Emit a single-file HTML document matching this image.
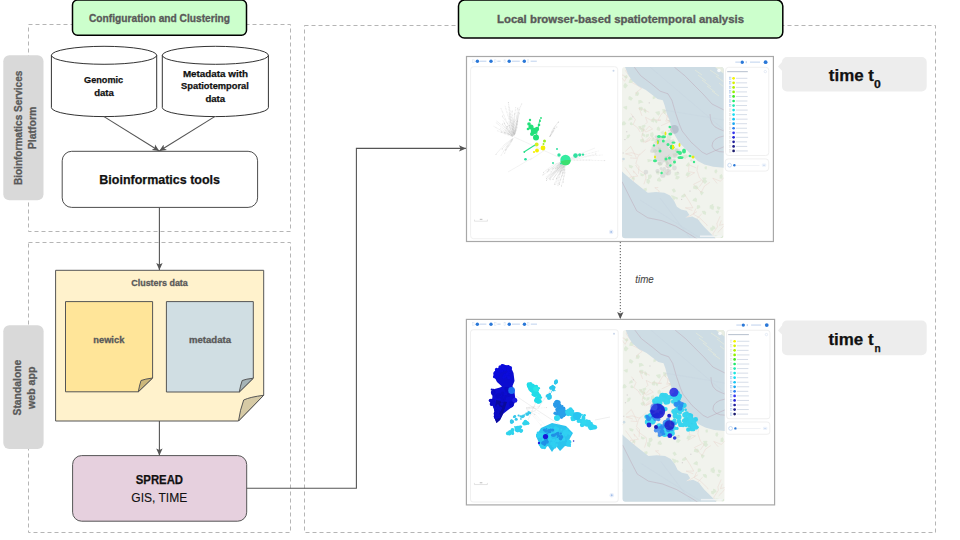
<!DOCTYPE html>
<html>
<head>
<meta charset="utf-8">
<style>
html,body{margin:0;padding:0;background:#fff;width:960px;height:540px;overflow:hidden;}
svg{display:block;font-family:"Liberation Sans",sans-serif;}
</style>
</head>
<body>
<svg width="960" height="540" viewBox="0 0 960 540">
<defs>
  <marker id="ah" markerWidth="8" markerHeight="8" viewBox="0 0 8 8" refX="7" refY="4" orient="auto" markerUnits="userSpaceOnUse">
    <path d="M0,0.8 L7,4 L0,7.2 L1.6,4 Z" fill="#555"/>
  </marker>
</defs>

<!-- dashed containers -->
<g fill="none" stroke="#b5b5b5" stroke-width="1" stroke-dasharray="4 3">
  <rect x="28.5" y="24.5" width="262" height="207"/>
  <rect x="28.5" y="242.5" width="262" height="290"/>
  <rect x="304.5" y="25.5" width="631" height="507"/>
</g>

<!-- green header boxes -->
<rect x="72.5" y="0.1" width="174" height="35.1" rx="5" fill="#ccffcc" stroke="#000" stroke-width="1.5"/>
<rect x="458.5" y="0.1" width="324.3" height="38" rx="6" fill="#ccffcc" stroke="#000" stroke-width="1.5"/>

<!-- gray side labels -->
<rect x="3.3" y="55.3" width="40.2" height="145" rx="6" fill="#d9d9d9"/>
<rect x="3.3" y="325.3" width="40.3" height="123.6" rx="6" fill="#d9d9d9"/>

<!-- cylinders -->
<g fill="#fff" stroke="#333" stroke-width="1">
  <path d="M51.4,55.3 A52.65,9 0 0 1 156.7,55.3 L156.7,107.6 A52.65,9 0 0 1 51.4,107.6 Z"/>
  <path d="M51.4,55.3 A52.65,9 0 0 0 156.7,55.3" fill="none"/>
  <path d="M162.3,55.3 A53.05,9 0 0 1 268.4,55.3 L268.4,107.6 A53.05,9 0 0 1 162.3,107.6 Z"/>
  <path d="M162.3,55.3 A53.05,9 0 0 0 268.4,55.3" fill="none"/>
</g>

<!-- Bioinformatics tools box -->
<rect x="62.2" y="151.3" width="195.4" height="56.1" rx="9.5" fill="#fff" stroke="#4d4d4d" stroke-width="1"/>

<!-- clusters frame -->
<path d="M55.6,270.3 H263.7 V395.3 L238.5,421 H55.6 Z" fill="#fff2cc" stroke="#555" stroke-width="1"/>
<path d="M263.7,395.3 Q250,397 243.7,400 Q240,410 238.5,421 Z" fill="#d6caa5" stroke="#555" stroke-width="1"/>
<path d="M65.5,301.6 H152.6 V378 L138.3,391.8 H65.5 Z" fill="#ffe599" stroke="#555" stroke-width="1"/>
<path d="M152.6,378 Q145,379 141,380.5 Q139.3,386 138.3,391.8 Z" fill="#ccb77a" stroke="#555" stroke-width="1"/>
<path d="M166.4,301.6 H253.3 V378.2 L239.3,392 H166.4 Z" fill="#d0dee3" stroke="#555" stroke-width="1"/>
<path d="M253.3,378.2 Q246,379 242.2,380.5 Q240.3,386 239.3,392 Z" fill="#a6b3b6" stroke="#555" stroke-width="1"/>

<!-- SPREAD box -->
<rect x="72.6" y="455.6" width="174.1" height="65.6" rx="9" fill="#e6d0de" stroke="#555" stroke-width="1"/>

<!-- connectors -->
<g fill="none" stroke="#555" stroke-width="1.1">
  <path d="M104,116.6 L159.3,151" marker-end="url(#ah)"/>
  <path d="M214.7,116.6 L159.3,151" marker-end="url(#ah)"/>
  <path d="M159.4,207.4 V270" marker-end="url(#ah)"/>
  <path d="M159.4,421 V455.4" marker-end="url(#ah)"/>
  <path d="M246.7,488.3 H356.4 V148.4 H466" marker-end="url(#ah)"/>
  <path d="M620.3,242 V319" stroke="#555" stroke-width="1" stroke-dasharray="1.2 1.8" marker-end="url(#ah)"/>
</g>

<!-- time bubbles -->
<path d="M787,57 H921.7 A5,5 0 0 1 926.7,62 V86.5 A5,5 0 0 1 921.7,91.5 H787 A5,5 0 0 1 782,86.5 V70.8 L778,66.5 L782,62 A5,5 0 0 1 787,57 Z" fill="#ededed"/>
<path d="M787,320.6 H921.7 A5,5 0 0 1 926.7,325.6 V350.2 A5,5 0 0 1 921.7,355.2 H787 A5,5 0 0 1 782,350.2 V334.6 L778,330.4 L782,325.6 A5,5 0 0 1 787,320.6 Z" fill="#ededed"/>

<!-- SCREENSHOTS -->
<g id="shots">
<defs><clipPath id="mapclip"><rect x="622" y="67" width="101.7" height="171.3" rx="3"/></clipPath>
<g id="mapbaseg" clip-path="url(#mapclip)">
<rect x="622" y="67" width="101.7" height="171.3" fill="#f1f3ed"/>
<path d="M669.2,163.2 L667.9,164.9 L665.8,164.3 L665.1,160.9 L667.4,161.1ZM632.2,205.6 L631.1,208.6 L629.0,206.7 L630.1,205.0 L631.4,204.4ZM643.0,107.8 L642.0,111.1 L639.1,109.8 L639.0,106.9 L641.5,106.8ZM724.3,237.8 L722.4,238.6 L720.9,238.1 L720.4,235.9 L722.7,235.7ZM719.2,211.5 L717.9,213.9 L716.0,212.5 L715.6,211.0 L718.5,210.5ZM633.3,124.6 L631.5,125.2 L630.0,124.7 L629.8,122.9 L631.4,122.0ZM643.4,191.6 L642.1,193.8 L640.0,193.3 L639.4,190.0 L641.6,189.3ZM645.4,134.9 L644.7,137.1 L642.0,135.5 L641.9,133.2 L643.3,133.3ZM633.3,166.3 L631.8,168.5 L629.1,167.4 L628.7,164.8 L631.2,165.3ZM714.2,206.6 L713.4,209.9 L710.7,209.1 L711.3,205.1 L713.2,205.7ZM628.4,231.2 L627.1,234.1 L624.5,232.5 L623.5,230.5 L626.0,230.1ZM679.5,212.9 L678.0,214.2 L677.0,214.0 L677.0,212.1 L678.2,211.0ZM682.2,89.3 L679.3,91.9 L677.2,90.6 L678.2,89.1 L679.3,86.5ZM694.4,231.0 L692.9,234.1 L689.7,233.8 L690.0,230.8 L693.4,229.0ZM698.7,187.9 L696.7,189.6 L693.0,188.4 L693.4,185.8 L696.9,185.4ZM686.8,132.5 L685.8,134.4 L681.7,133.3 L683.2,131.1 L685.5,130.3ZM668.6,209.7 L667.4,212.3 L664.8,211.3 L664.5,208.9 L667.2,207.6ZM650.1,68.6 L648.2,70.1 L645.3,69.9 L645.1,67.3 L648.1,66.5ZM644.8,141.2 L642.0,142.5 L640.4,141.6 L639.9,139.8 L643.3,138.2ZM694.5,229.3 L693.7,231.0 L691.8,230.8 L691.5,228.1 L693.7,226.7ZM721.2,144.1 L720.3,145.5 L718.2,145.5 L717.8,143.0 L720.2,143.1ZM669.0,71.5 L668.0,72.2 L665.8,72.3 L665.6,69.6 L669.0,68.5ZM691.8,101.1 L691.6,102.8 L689.2,101.8 L688.9,100.3 L691.3,99.1ZM686.2,196.1 L683.5,197.5 L681.0,197.2 L681.6,195.5 L684.6,193.5ZM662.4,164.9 L659.8,166.3 L658.4,165.0 L657.7,162.3 L660.7,161.9ZM646.3,221.8 L644.1,223.5 L641.1,222.9 L642.2,219.6 L643.5,218.9ZM678.1,198.4 L677.2,199.5 L675.8,199.0 L674.7,197.0 L677.2,197.0ZM676.1,191.2 L673.7,192.8 L672.5,191.1 L671.7,189.8 L674.1,188.2ZM688.1,156.9 L686.6,158.1 L683.2,157.6 L683.3,155.1 L687.1,154.6ZM681.4,101.4 L679.6,102.4 L677.3,102.1 L677.0,99.9 L680.0,99.4ZM693.0,78.3 L691.2,81.3 L689.6,79.7 L689.3,77.5 L692.5,75.7ZM672.0,120.8 L669.7,122.5 L668.7,121.7 L668.3,120.6 L670.4,119.7ZM660.1,172.4 L658.6,174.8 L656.5,174.0 L656.0,171.8 L658.0,171.1ZM677.3,93.9 L675.4,96.4 L672.8,95.3 L673.9,93.2 L676.2,91.8ZM715.3,120.7 L713.8,123.8 L711.1,121.5 L710.0,119.8 L712.5,119.8ZM706.5,139.3 L706.1,141.4 L704.3,140.2 L703.0,137.1 L705.9,138.1ZM675.1,196.6 L673.1,197.7 L671.9,197.5 L670.9,195.3 L673.0,195.4ZM643.6,102.5 L640.5,103.1 L638.5,104.3 L638.2,100.3 L640.9,99.9ZM674.6,140.6 L674.1,143.3 L672.2,142.0 L672.2,139.2 L673.7,139.2ZM675.9,70.3 L673.8,72.5 L671.6,70.6 L671.6,68.3 L674.8,67.4ZM650.5,223.2 L648.1,224.7 L645.1,223.9 L645.9,221.0 L648.7,221.1ZM696.3,78.9 L695.3,80.5 L692.2,80.3 L691.5,77.7 L695.0,77.5ZM689.8,164.4 L688.0,166.8 L685.6,165.7 L687.3,163.6 L689.0,162.0ZM649.0,135.3 L648.1,136.8 L645.5,137.8 L646.0,134.4 L648.9,133.8ZM722.7,176.3 L722.2,178.7 L719.6,178.5 L719.7,175.3 L721.8,174.0ZM685.0,77.5 L683.8,79.2 L681.9,78.1 L681.4,75.5 L683.6,74.5ZM652.7,69.2 L652.9,71.7 L649.3,71.3 L650.8,68.6 L653.4,66.9ZM631.4,221.8 L629.4,223.4 L626.8,223.6 L627.9,220.4 L630.9,219.5ZM684.4,86.8 L682.9,87.7 L681.3,87.4 L680.3,85.3 L682.8,85.2ZM682.4,139.1 L680.3,141.8 L678.9,139.5 L677.5,137.6 L681.3,136.6ZM660.1,113.7 L658.5,115.7 L656.7,114.1 L655.1,112.0 L659.5,110.9ZM627.9,77.1 L626.2,78.6 L625.0,78.1 L623.6,76.5 L626.8,75.1ZM661.0,148.5 L659.8,151.6 L658.5,149.8 L657.7,147.1 L660.0,147.5ZM666.2,111.5 L665.1,114.2 L662.8,112.6 L662.3,109.0 L664.9,109.4ZM632.8,216.4 L632.3,218.6 L630.3,217.5 L630.9,215.8 L632.0,214.2ZM632.7,119.3 L630.7,120.1 L628.2,120.7 L629.1,118.3 L631.1,116.9ZM715.8,228.2 L714.1,229.4 L712.5,229.0 L712.0,225.4 L714.1,226.0ZM660.4,129.0 L659.6,131.1 L656.6,130.1 L657.0,127.5 L658.9,126.5ZM712.1,114.5 L710.7,117.3 L707.8,116.0 L709.3,114.3 L711.0,112.6ZM633.4,81.4 L631.7,83.0 L628.6,82.9 L629.2,80.0 L630.8,78.3ZM675.9,197.7 L674.2,200.2 L672.4,199.1 L672.3,196.0 L675.2,196.2ZM707.3,181.6 L705.0,183.9 L702.4,181.8 L702.6,179.5 L705.5,179.3ZM667.2,92.5 L664.6,93.3 L662.7,93.4 L661.3,90.5 L664.1,90.3ZM634.9,178.0 L634.6,179.5 L631.0,179.4 L632.3,177.4 L633.7,176.3ZM647.0,189.7 L646.3,191.1 L643.7,191.6 L643.6,188.6 L646.5,187.8ZM649.7,219.2 L648.9,221.7 L646.9,219.6 L645.2,217.7 L648.9,217.1ZM677.9,154.8 L675.1,156.7 L673.5,156.8 L672.4,153.8 L675.8,153.1ZM639.3,93.7 L637.9,96.0 L635.0,95.5 L635.8,92.8 L638.0,91.2ZM624.9,208.0 L623.0,208.8 L621.1,208.0 L620.5,206.3 L623.4,205.6ZM709.6,119.2 L707.8,120.1 L706.4,119.5 L706.0,117.6 L708.0,116.1ZM654.8,119.7 L654.0,122.6 L651.2,121.8 L651.4,119.4 L654.0,117.1ZM706.7,178.3 L705.3,180.3 L703.3,179.9 L702.0,177.8 L705.7,177.5ZM685.8,116.5 L684.3,118.2 L681.7,118.2 L682.3,116.0 L684.4,115.1ZM718.2,163.5 L716.6,164.4 L715.7,164.1 L714.6,161.5 L716.7,161.4ZM707.1,168.0 L706.3,169.5 L704.8,169.1 L704.5,166.9 L706.5,166.1ZM700.4,207.3 L699.1,208.4 L696.7,209.0 L697.0,205.2 L699.6,205.3ZM626.3,123.4 L624.8,125.2 L621.6,125.2 L622.3,121.9 L624.1,120.9ZM714.4,160.6 L713.6,163.0 L710.3,161.5 L710.2,158.8 L712.7,157.7ZM686.2,100.5 L685.4,103.3 L682.4,102.9 L683.0,99.8 L685.0,97.7ZM637.8,221.7 L636.0,223.1 L632.6,222.8 L634.0,219.9 L635.8,218.8ZM653.1,220.0 L651.0,221.8 L649.9,221.0 L649.5,219.9 L652.6,217.9ZM690.4,119.9 L688.7,121.7 L686.9,120.1 L686.0,118.7 L688.0,117.8ZM680.5,96.7 L679.4,98.4 L678.0,97.3 L678.0,95.8 L680.2,94.8ZM671.5,137.5 L669.4,140.0 L666.4,139.2 L667.0,135.2 L669.5,135.5ZM680.8,221.8 L679.6,224.6 L677.8,222.5 L676.4,219.7 L679.6,219.7ZM698.3,119.2 L698.2,120.8 L695.7,120.2 L694.8,118.2 L697.7,117.7ZM653.8,134.5 L652.8,137.8 L650.1,136.1 L650.3,133.1 L653.0,132.0ZM681.3,220.8 L679.8,223.4 L677.7,221.8 L677.2,220.7 L678.9,220.4ZM713.3,206.3 L711.8,207.5 L709.7,208.8 L709.7,205.4 L713.2,203.8ZM672.3,101.9 L669.4,103.7 L667.6,103.0 L668.1,101.5 L670.9,99.6ZM645.1,174.6 L642.9,176.2 L640.7,175.9 L640.3,172.9 L642.8,174.0ZM692.8,227.3 L692.4,228.9 L690.3,228.1 L690.2,226.7 L692.7,224.9ZM661.5,180.7 L660.0,181.7 L657.0,181.1 L657.1,179.1 L659.5,177.0ZM667.1,157.4 L666.4,158.9 L664.1,159.3 L664.5,156.7 L666.7,156.0ZM652.8,160.2 L649.9,161.8 L647.8,162.3 L647.3,159.1 L650.3,159.4ZM680.0,177.1 L677.9,179.4 L675.3,179.0 L676.0,175.8 L678.4,176.1ZM701.5,95.3 L700.9,97.8 L697.5,96.5 L698.1,94.3 L700.3,93.0ZM674.5,73.2 L672.7,75.9 L671.0,74.0 L669.9,72.3 L672.4,71.1ZM651.2,202.8 L648.9,205.7 L646.9,204.2 L646.8,202.9 L648.4,201.9ZM686.4,156.5 L685.6,159.2 L683.1,158.0 L681.8,155.8 L685.5,154.5ZM629.6,137.1 L628.1,138.3 L626.0,138.8 L627.3,136.2 L628.9,134.7ZM627.2,108.5 L626.5,109.7 L625.0,108.9 L622.9,107.1 L627.1,105.8ZM646.5,110.3 L646.0,113.2 L643.7,111.4 L643.6,108.4 L645.1,108.4ZM689.5,76.8 L687.2,79.3 L685.1,77.8 L684.6,75.5 L687.6,74.4ZM645.7,126.0 L644.3,127.7 L642.1,127.9 L641.8,125.4 L645.0,124.4ZM709.4,101.9 L708.6,103.7 L707.5,102.7 L706.8,101.3 L709.0,99.0ZM694.9,112.8 L693.6,114.7 L691.2,114.1 L692.8,112.1 L693.9,111.1ZM633.0,217.6 L630.7,219.0 L629.1,218.9 L629.1,217.4 L630.7,216.9ZM654.5,139.5 L653.5,141.1 L651.1,140.7 L651.9,138.9 L653.7,137.0ZM664.0,133.4 L663.3,134.7 L661.8,133.9 L660.3,132.3 L663.5,130.5ZM722.6,118.3 L720.7,120.2 L716.9,119.5 L718.6,116.8 L720.0,116.9ZM666.5,133.6 L665.6,136.0 L663.8,135.0 L663.0,133.0 L665.1,131.7ZM647.9,82.7 L647.1,84.9 L644.0,84.0 L645.2,82.2 L646.4,81.2ZM630.3,135.6 L628.8,138.1 L627.1,137.2 L626.6,135.6 L629.5,134.2ZM650.2,180.9 L648.9,184.2 L646.5,182.7 L646.5,179.1 L649.1,179.1ZM665.9,137.7 L663.3,139.9 L662.1,138.5 L661.2,137.2 L663.5,136.3ZM721.2,92.3 L720.0,94.1 L718.4,94.4 L718.4,91.8 L720.4,90.3ZM679.6,173.9 L676.9,175.5 L674.6,175.7 L674.6,172.5 L677.9,171.5ZM720.7,207.5 L719.1,210.1 L717.2,209.0 L716.8,206.4 L718.6,206.4ZM655.8,97.4 L655.1,98.4 L652.8,99.3 L652.7,96.6 L655.4,95.6ZM639.3,215.4 L639.2,217.0 L636.6,215.9 L637.1,214.1 L639.0,213.6ZM658.1,197.4 L655.9,198.7 L653.3,198.0 L653.5,194.8 L655.5,195.0ZM689.9,106.3 L689.7,109.5 L687.7,106.9 L687.5,105.2 L689.7,104.8ZM717.8,235.4 L715.9,237.0 L713.4,237.9 L714.6,235.1 L715.6,235.1ZM677.9,149.5 L676.6,152.4 L674.9,150.9 L674.2,147.9 L677.3,148.1ZM692.7,160.6 L692.0,161.4 L690.0,160.9 L690.4,159.6 L691.6,159.3ZM680.2,91.7 L679.5,93.4 L677.4,92.6 L677.5,91.2 L679.5,90.1ZM633.0,98.2 L631.2,100.8 L628.3,99.3 L628.6,96.8 L629.9,96.0ZM690.7,173.1 L688.0,176.7 L685.5,175.3 L686.7,172.6 L687.7,172.2ZM636.5,79.5 L634.8,81.7 L633.0,80.9 L633.2,79.0 L634.8,77.1ZM704.0,192.6 L701.5,195.4 L700.1,193.2 L700.1,191.3 L701.9,191.3ZM714.5,71.1 L713.6,72.7 L710.6,72.4 L710.9,69.8 L713.3,69.4ZM714.2,121.6 L712.8,123.4 L710.6,123.0 L711.5,121.1 L712.6,120.7ZM659.0,140.0 L657.7,142.2 L654.5,142.4 L654.4,139.4 L657.6,138.1ZM636.0,235.7 L633.7,237.5 L631.6,236.5 L630.6,234.7 L633.8,234.4ZM641.6,128.5 L640.8,129.9 L639.1,128.8 L638.1,126.2 L641.5,126.0ZM675.3,163.4 L672.9,166.0 L670.8,165.1 L671.2,163.3 L673.3,162.0ZM675.5,72.7 L674.1,74.7 L672.3,73.0 L670.9,70.7 L674.3,71.0ZM698.6,236.0 L697.3,238.9 L694.5,237.1 L694.0,234.4 L697.2,233.8ZM702.9,154.8 L702.0,157.0 L699.8,156.4 L700.0,153.3 L702.5,153.3ZM652.1,176.5 L650.3,179.1 L648.0,179.0 L648.2,175.1 L651.0,174.3ZM702.9,92.9 L702.7,94.4 L699.1,94.1 L700.4,92.4 L702.4,90.2ZM686.8,220.4 L684.8,223.3 L681.3,222.2 L681.5,220.1 L684.0,220.2ZM657.6,121.0 L656.6,123.4 L655.1,121.9 L654.5,119.5 L656.1,119.7ZM717.5,171.2 L716.1,173.8 L714.5,172.2 L714.5,170.4 L716.3,168.9ZM666.5,207.1 L665.4,210.2 L662.6,208.9 L662.4,206.2 L665.0,204.4ZM652.6,213.3 L650.7,215.0 L648.6,214.2 L649.7,212.5 L651.1,211.6ZM668.6,229.9 L666.4,231.7 L665.1,231.0 L665.1,229.0 L666.6,228.5ZM706.2,212.5 L705.6,214.9 L702.9,213.8 L701.8,211.0 L704.8,210.8ZM714.1,228.7 L712.4,231.1 L710.4,230.4 L710.1,227.8 L713.6,226.8ZM723.6,135.0 L721.9,137.7 L720.0,136.1 L719.2,133.3 L721.7,131.4ZM644.8,129.9 L643.1,131.4 L641.3,132.0 L640.9,128.6 L643.4,127.5ZM697.1,199.2 L696.7,202.1 L692.3,200.7 L693.4,199.1 L695.8,197.6ZM635.2,201.7 L634.3,203.9 L632.3,202.9 L631.8,201.0 L633.8,200.6ZM665.4,75.9 L663.9,78.2 L662.3,76.8 L662.5,75.3 L664.6,74.5ZM665.7,172.4 L663.0,172.6 L660.8,173.8 L660.8,169.9 L662.9,169.5ZM628.0,85.5 L625.5,88.6 L623.7,87.4 L623.4,85.3 L625.1,82.8ZM657.8,150.9 L655.0,152.9 L652.5,152.4 L653.5,149.7 L655.6,149.2ZM660.6,140.4 L659.5,142.3 L657.0,142.6 L656.8,139.6 L659.4,138.6ZM646.0,83.8 L644.7,85.4 L642.4,84.9 L642.5,83.3 L644.8,83.1Z" fill="#d2e5ca" opacity="0.6"/>
<path d="M684.3,193.8 L689.0,201.0 L692.9,207.8 L685.3,207.8 L692.4,210.5M712.1,86.4 L711.6,83.1 L712.3,84.7 L704.5,80.9 L701.0,87.7M698.6,94.3 L703.3,89.4 L705.2,84.3 L697.2,90.3 L692.6,86.6M720.2,216.2 L716.9,223.6 L717.5,226.8 L712.8,233.9 L715.8,241.4M711.4,118.1 L709.2,113.6 L703.5,107.6 L700.3,109.6 L692.4,112.8M655.8,120.0 L660.9,120.2 L657.9,120.4 L661.2,114.3 L668.8,107.6M697.0,211.5 L689.3,216.3 L687.1,218.0 L679.3,211.7 L674.2,219.0M641.7,196.2 L648.5,203.4 L646.0,201.7 L646.4,206.3 L640.2,210.5M701.7,214.0 L694.3,221.2 L687.8,219.3 L689.5,226.1 L687.0,232.9M676.5,120.4 L673.6,116.1 L666.8,111.3 L669.9,119.3 L664.4,113.0M720.7,158.2 L719.2,154.8 L720.7,160.2 L720.0,159.5 L712.8,166.3M625.3,151.4 L630.7,146.4 L634.4,153.6 L636.5,158.4 L630.2,157.9M636.9,211.4 L633.6,211.2 L641.6,217.0 L649.2,216.8 L649.1,220.8M669.9,116.8 L668.4,112.0 L666.4,119.8 L673.8,122.2 L673.7,120.3M630.9,113.6 L635.4,119.6 L633.2,124.4 L637.6,127.8 L640.2,132.2M658.3,187.5 L654.8,187.7 L659.2,191.1 L655.9,198.3 L658.2,200.0M623.2,160.5 L619.2,163.6 L618.6,168.9 L620.9,173.8 L618.5,176.5M695.8,208.6 L693.4,214.3 L699.3,217.6 L706.9,224.9 L707.2,225.9M638.6,210.1 L645.6,210.2 L648.7,214.0 L652.4,209.6 L656.8,211.3M688.6,139.0 L690.5,143.6 L692.7,147.4 L685.2,142.8 L684.2,145.5M643.9,184.3 L646.0,177.9 L645.5,174.3 L638.4,169.3 L635.5,165.0M641.3,73.1 L640.8,71.8 L642.6,73.7 L638.4,80.2 L630.4,79.3M649.9,137.1 L643.7,142.6 L641.7,136.1 L643.5,130.6 L644.2,128.6M680.1,230.9 L685.2,230.2 L690.2,232.8 L688.1,227.9 L689.6,229.4M717.7,232.5 L719.5,230.8 L725.8,223.8 L719.5,225.3 L721.3,220.4M684.9,219.4 L683.0,218.9 L678.6,216.3 L686.1,215.0 L693.5,221.7M681.6,111.4 L689.3,111.9 L687.9,109.7 L695.7,110.0 L692.3,110.2M634.2,173.3 L633.3,170.7 L637.8,176.1 L630.0,177.1 L626.4,184.1M700.2,109.0 L696.5,104.3 L704.3,101.7 L706.0,101.8 L708.3,103.9M696.3,87.2 L700.5,84.7 L701.0,82.8 L697.8,83.7 L697.2,82.1M696.5,168.0 L689.1,164.8 L688.4,171.6 L694.6,172.7 L686.8,177.4M664.8,165.4 L668.1,167.9 L667.8,174.6 L666.0,173.5 L671.6,169.4M651.6,208.9 L644.7,214.5 L647.8,214.0 L644.4,218.7 L651.0,213.8M669.8,160.9 L669.8,158.9 L664.3,160.6 L669.2,154.7 L664.9,160.0M701.2,180.5 L693.6,184.3 L701.2,192.3 L704.5,186.0 L709.9,182.3M686.6,229.8 L690.0,224.9 L686.7,231.6 L681.0,233.8 L679.7,229.2M684.2,74.4 L678.0,73.1 L671.1,67.0 L672.3,71.1 L678.4,66.2M665.2,120.8 L666.8,121.1 L673.8,119.7 L666.7,123.2 L661.1,125.7M672.6,222.7 L673.5,225.0 L669.7,226.3 L665.7,230.5 L666.0,225.5M645.4,130.5 L649.2,126.2 L652.6,129.0 L646.0,132.0 L639.5,126.9M681.4,107.8 L687.4,108.0 L684.6,113.0 L677.1,116.8 L669.9,112.1M717.2,183.5 L712.8,178.2 L720.3,181.2 L725.5,176.3 L727.5,174.6M645.5,124.0 L647.3,122.2 L645.5,117.3 L650.8,120.0 L655.7,119.5M707.2,155.5 L708.6,157.1 L712.5,156.0 L706.0,149.5 L701.3,143.1M710.9,149.2 L715.1,142.3 L714.6,148.6 L716.5,148.0 L716.0,142.5M637.5,94.2 L635.5,93.0 L641.5,88.3 L637.6,85.4 L632.2,82.7M645.5,149.4 L638.0,156.3 L635.9,163.4 L638.9,166.5 L638.5,173.7M633.8,181.3 L630.4,184.4 L634.1,179.9 L629.3,173.3 L625.0,167.4M662.1,233.5 L659.9,231.2 L659.4,228.4 L663.1,232.2 L657.8,228.8M689.2,227.8 L691.6,227.3 L699.2,220.4 L692.1,225.1 L690.7,218.7M676.8,236.2 L677.1,234.5 L670.6,228.5 L677.0,228.9 L684.0,222.7M646.3,75.6 L644.7,69.5 L640.8,68.6 L637.7,62.4 L630.3,70.0M639.9,154.0 L638.4,154.9 L631.7,152.7 L625.5,153.8 L632.2,155.8M707.7,103.7 L700.0,104.8 L699.7,106.3 L697.8,108.7 L701.4,115.4M652.8,143.8 L658.0,140.1 L651.8,137.8 L645.2,142.4 L650.3,140.1M635.0,81.0 L630.9,75.3 L629.8,76.9 L625.7,70.9 L628.9,64.6M642.0,115.9 L640.0,110.4 L638.7,108.1 L642.7,109.4 L649.1,112.2M698.0,165.3 L697.0,170.5 L699.5,177.9 L703.2,181.4 L699.5,186.6M660.2,89.3 L653.3,84.8 L649.5,88.0 L646.1,81.9 L650.3,83.3M624.7,75.7 L618.8,74.0 L624.6,81.3 L626.4,77.7 L625.2,76.2" fill="none" stroke="#e8cfc8" stroke-width="0.4"/>
<path d="M668.3,130.8h1.2M635.9,215.2h1.2M622.6,153.0h1.2M711.8,80.8h1.2M677.4,172.4h1.2M626.1,131.8h1.2M692.3,144.3h1.2M694.5,93.9h1.2M645.8,86.0h1.2M672.6,225.0h1.2M681.0,199.4h1.2M660.4,194.6h1.2M632.2,116.8h1.2M689.4,191.1h1.2M664.2,82.0h1.2M648.7,102.9h1.2M650.1,205.4h1.2M641.9,218.6h1.2M709.9,76.4h1.2M659.9,151.1h1.2M624.3,139.6h1.2M712.6,86.2h1.2M681.7,87.7h1.2M679.9,220.1h1.2M642.3,68.4h1.2" stroke="#d4d0d0" stroke-width="1" fill="none"/>
<path d="M624.5,66 L625.2,67.2 L627.8,73.7 L631.7,80.2 L638.1,86 L645.9,89.9 L652.4,95.1 L657.6,99 L662.8,100.3 L664.7,105.5 L666.7,113.3 L669.9,121 L671.1,126.7 L674.4,134.4 L678.9,142.2 L685.6,148.9 L692.2,155.6 L697.8,161.1 L704.4,164.4 L713.3,166.7 L724.5,167.8 L724.5,66 Z" fill="#cddce4"/>
<path d="M714,66 Q718,70 724.5,74 L724.5,66 Z" fill="#e8ede2"/>
<g stroke="#e2e8dc" stroke-width="0.8" fill="none"><path d="M695,70 l7,5"/><path d="M698,75 l8,6"/><path d="M702,80 l9,7"/><path d="M707,86 l8,6"/><path d="M712,91 l7,5"/><path d="M716,76 l8,6"/><path d="M719,83 l5,4"/><path d="M710,70 l9,6"/></g>
<path d="M621,170.6 L625.6,174.7 L633.9,181.7 L640.8,187.2 L647.8,192.8 L656.1,192.1 L664.4,192.8 L670,195.6 L674.2,201.1 L676.9,206.7 L681.1,209.4 L686.7,210.8 L689.4,215 L685.3,217.8 L692.2,216.4 L697.8,219.2 L703.3,226.1 L708.9,231.7 L714.4,237.2 L716,239 L621,239 Z" fill="#cddce4"/>
<g fill="none" stroke="#bda4b2" stroke-width="0.45">
<path d="M634.3,67.2 L640.7,75.7 L652.4,84.7 L660.2,91.2 L668,93.8 L671.9,100.3 L675.7,113.3 L679.6,124.9 L682.2,131.1 L691.1,142.2 L702.2,152.2 L706.7,154.4 L724,146.7"/>
<path d="M674.4,67.2 L684.8,75.7 L695,86 L703,94 L712,104 L724,110"/>
<path d="M724,136 Q712,138 712,146 Q714,152 724,152"/>
<path d="M710,114 Q710,126 718.9,128.9 L724,131"/>
<path d="M622,181.7 L631,199.7 L636.7,210.8 L647.8,217.8 L661.7,220.6 L675.6,226.1 L692.2,235.8 L697,239"/>
</g>
<g fill="none" stroke="#c6d2de" stroke-width="0.35">
<path d="M650,67 L724,130"/><path d="M664,110 L724,120"/><path d="M640,200 L700,238"/><path d="M660,198 L690,238"/>
</g>
<circle cx="623.5" cy="159" r="1.3" fill="#cddce4"/>
<rect x="700" y="235.5" width="22" height="1.5" fill="#f4f6f8" opacity="0.8"/>
<circle cx="719" cy="70.5" r="1.8" fill="#fff" opacity="0.8"/>
</g>
</defs>
<g id="shotbase">
<rect x="466.5" y="56.5" width="306.9" height="185" fill="#fff" stroke="#a8a8a8" stroke-width="1.2"/>
<g fill="#2a78d8">
<circle cx="477.4" cy="61.3" r="1.7"/>
<circle cx="491.0" cy="61.3" r="1.7"/>
<circle cx="509.2" cy="61.3" r="1.7"/>
<circle cx="524.3" cy="61.3" r="1.7"/>
</g>
<g fill="#cddcf2">
<rect x="479.8" y="60.6" width="6.6" height="1.3"/>
<rect x="497.3" y="60.6" width="3.3" height="1.3"/>
<rect x="511.8" y="60.6" width="8.0" height="1.3"/>
<rect x="530.6" y="60.6" width="6.2" height="1.3"/>
</g>
<g fill="none" stroke="#d6e2f2" stroke-width="0.5">
<rect x="472.5" y="59.8" width="1.6" height="2.8"/>
<rect x="494.4" y="59.8" width="1.6" height="2.8"/>
<rect x="504.0" y="59.8" width="1.6" height="2.8"/>
<rect x="527.2" y="59.8" width="1.6" height="2.8"/>
</g>
<circle cx="742.2" cy="62.2" r="1.7" fill="#2a78d8"/><circle cx="765.6" cy="62.2" r="1.9" fill="#2a78d8"/>
<rect x="735.3" y="61.5" width="5.3" height="1.3" fill="#cddcf2"/><rect x="750" y="61.5" width="10" height="1.3" fill="#cddcf2"/>
<rect x="745.6" y="61.2" width="1.3" height="2" fill="#c0d4ee"/>
<rect x="470.6" y="66.7" width="147.1" height="172" rx="3" fill="#fff" stroke="#f0f0f0" stroke-width="1"/>
<rect x="725.6" y="67.3" width="43.2" height="88.2" rx="3" fill="#fff" stroke="#f0f0f0" stroke-width="1"/>
<rect x="725.2" y="158.9" width="43.5" height="12.2" rx="3" fill="#fff" stroke="#f0f0f0" stroke-width="1"/>
<circle cx="613.5" cy="70.8" r="1" fill="#c9d6ea"/>
<circle cx="611.2" cy="231.9" r="2.3" fill="#e8eefa"/><circle cx="611.2" cy="231.9" r="0.9" fill="#9fbde8"/>
<path d="M474.5,219.6 V221.2 H487.4 V219.6" fill="none" stroke="#c8c8c8" stroke-width="0.5"/><rect x="479.8" y="218.8" width="2.6" height="1.2" fill="#c8c8c8"/>
<rect x="727.2" y="71.1" width="20.6" height="1.1" fill="#bcc5d2"/><circle cx="765.3" cy="71.6" r="1.2" fill="none" stroke="#cdd9ea" stroke-width="0.5"/>
<circle cx="729.6" cy="165.2" r="1.9" fill="none" stroke="#a9c4ea" stroke-width="0.6"/>
<circle cx="734.4" cy="165.2" r="1.2" fill="#2a78d8"/>
<rect x="735.5" y="165" width="24" height="0.5" fill="#e2e6ec"/>
<rect x="761.8" y="163.6" width="4.4" height="3.2" rx="1" fill="#eef3fb"/><rect x="763" y="164.8" width="2" height="1" fill="#cddcf2"/>
</g>

<g id="s1legend" transform="translate(0,0)">
<rect x="729.3" y="77.10" width="1.6" height="2.4" fill="none" stroke="#a6c2ea" stroke-width="0.5"/>
<circle cx="733.6" cy="78.30" r="1.35" fill="#f4f400"/>
<rect x="735.9" y="77.80" width="11.5" height="1.0" fill="#d6dde8"/>
<rect x="729.3" y="81.64" width="1.6" height="2.4" fill="none" stroke="#a6c2ea" stroke-width="0.5"/>
<circle cx="733.6" cy="82.84" r="1.35" fill="#d6f000"/>
<rect x="735.9" y="82.34" width="11.2" height="1.0" fill="#d6dde8"/>
<rect x="729.3" y="86.18" width="1.6" height="2.4" fill="none" stroke="#a6c2ea" stroke-width="0.5"/>
<circle cx="733.6" cy="87.38" r="1.35" fill="#b4f000"/>
<rect x="735.9" y="86.88" width="12.0" height="1.0" fill="#d6dde8"/>
<rect x="729.3" y="90.72" width="1.6" height="2.4" fill="none" stroke="#a6c2ea" stroke-width="0.5"/>
<circle cx="733.6" cy="91.92" r="1.35" fill="#8ef000"/>
<rect x="735.9" y="91.42" width="11.1" height="1.0" fill="#d6dde8"/>
<rect x="729.3" y="95.26" width="1.6" height="2.4" fill="none" stroke="#a6c2ea" stroke-width="0.5"/>
<circle cx="733.6" cy="96.46" r="1.35" fill="#3ee820"/>
<rect x="735.9" y="95.96" width="11.8" height="1.0" fill="#d6dde8"/>
<rect x="729.3" y="99.80" width="1.6" height="2.4" fill="none" stroke="#a6c2ea" stroke-width="0.5"/>
<circle cx="733.6" cy="101.00" r="1.35" fill="#22e86a"/>
<rect x="735.9" y="100.50" width="11.5" height="1.0" fill="#d6dde8"/>
<rect x="729.3" y="104.34" width="1.6" height="2.4" fill="none" stroke="#a6c2ea" stroke-width="0.5"/>
<circle cx="733.6" cy="105.54" r="1.35" fill="#22e8b0"/>
<rect x="735.9" y="105.04" width="11.1" height="1.0" fill="#d6dde8"/>
<rect x="729.3" y="108.88" width="1.6" height="2.4" fill="none" stroke="#dddddd" stroke-width="0.5"/>
<circle cx="733.6" cy="110.08" r="1.35" fill="#18e4e0"/>
<rect x="735.9" y="109.58" width="11.8" height="1.0" fill="#d6dde8"/>
<rect x="729.3" y="113.42" width="1.6" height="2.4" fill="none" stroke="#dddddd" stroke-width="0.5"/>
<circle cx="733.6" cy="114.62" r="1.35" fill="#18dcf4"/>
<rect x="735.9" y="114.12" width="11.1" height="1.0" fill="#d6dde8"/>
<rect x="729.3" y="117.96" width="1.6" height="2.4" fill="none" stroke="#dddddd" stroke-width="0.5"/>
<circle cx="733.6" cy="119.16" r="1.35" fill="#14c4f4"/>
<rect x="735.9" y="118.66" width="11.7" height="1.0" fill="#d6dde8"/>
<rect x="729.3" y="122.50" width="1.6" height="2.4" fill="none" stroke="#dddddd" stroke-width="0.5"/>
<circle cx="733.6" cy="123.70" r="1.35" fill="#18a6f2"/>
<rect x="735.9" y="123.20" width="11.1" height="1.0" fill="#d6dde8"/>
<rect x="729.3" y="127.04" width="1.6" height="2.4" fill="none" stroke="#dddddd" stroke-width="0.5"/>
<circle cx="733.6" cy="128.24" r="1.35" fill="#2a7cf0"/>
<rect x="735.9" y="127.74" width="11.1" height="1.0" fill="#d6dde8"/>
<rect x="729.3" y="131.58" width="1.6" height="2.4" fill="none" stroke="#dddddd" stroke-width="0.5"/>
<circle cx="733.6" cy="132.78" r="1.35" fill="#3434f0"/>
<rect x="735.9" y="132.28" width="11.6" height="1.0" fill="#d6dde8"/>
<rect x="729.3" y="136.12" width="1.6" height="2.4" fill="none" stroke="#dddddd" stroke-width="0.5"/>
<circle cx="733.6" cy="137.32" r="1.35" fill="#2424d4"/>
<rect x="735.9" y="136.82" width="12.2" height="1.0" fill="#d6dde8"/>
<rect x="729.3" y="140.66" width="1.6" height="2.4" fill="none" stroke="#dddddd" stroke-width="0.5"/>
<circle cx="733.6" cy="141.86" r="1.35" fill="#20209e"/>
<rect x="735.9" y="141.36" width="11.2" height="1.0" fill="#d6dde8"/>
<rect x="729.3" y="145.20" width="1.6" height="2.4" fill="none" stroke="#dddddd" stroke-width="0.5"/>
<circle cx="733.6" cy="146.40" r="1.35" fill="#1e1e8a"/>
<rect x="735.9" y="145.90" width="11.3" height="1.0" fill="#d6dde8"/>
<rect x="729.3" y="149.74" width="1.6" height="2.4" fill="none" stroke="#dddddd" stroke-width="0.5"/>
<circle cx="733.6" cy="150.94" r="1.35" fill="#1c1c6e"/>
<rect x="735.9" y="150.44" width="11.9" height="1.0" fill="#d6dde8"/>
</g>

<use href="#mapbaseg"/>
<g id="s1tree">
<path d="M514.9,133.0L515.5,120.2L521.5,104.0M514.4,133.6L516.4,122.7L517.4,108.3M513.7,133.9L513.3,124.0L511.9,111.1M513.4,134.5L512.2,126.6L509.1,116.5M514.6,134.1L516.4,125.0L519.3,113.1M513.2,135.7L510.5,131.8L507.1,126.4M512.9,133.2L509.6,121.3L505.0,105.7M513.4,135.6L511.2,131.4L509.1,125.5M513.3,132.9L512.0,119.6L508.2,102.5M514.6,133.4L517.6,122.3L519.1,107.1M514.2,133.4L514.2,121.9L515.7,106.9M514.4,135.2L516.4,129.5L517.6,121.7M513.4,134.2L511.5,125.2L509.0,113.3M513.4,133.3L510.6,121.8L508.6,106.3M514.5,134.3L516.2,125.9L517.9,114.7M514.1,134.2L513.3,125.4L514.5,113.8M514.0,135.1L515.0,129.1L514.0,121.2M514.4,134.7L517.0,127.9L517.5,118.2M513.5,134.2L512.5,125.1L509.9,113.4M513.3,135.1L511.2,129.1L508.4,121.2M513.9,135.4L514.2,130.1L513.1,123.3M514.4,135.1L516.1,129.1L517.0,120.9M513.9,134.8L512.9,127.9L513.2,118.7M512.6,134.5L509.2,126.0L502.1,116.1M512.4,133.5L507.0,122.5L500.6,107.6M512.7,135.0L507.6,129.1L502.8,120.0" stroke="#b0b0b0" stroke-width="0.35" stroke-dasharray="0.7 0.8" fill="none"/>
<path d="M521.5,104.0h0.6M517.4,108.3h0.6M511.9,111.1h0.6M519.3,113.1h0.6M507.1,126.4h0.6M509.1,125.5h0.6M508.2,102.5h0.6M514.5,113.8h0.6M514.0,121.2h0.6M517.0,120.9h0.6M502.1,116.1h0.6" stroke="#b0b0b0" stroke-width="0.6" fill="none"/>
<path d="M511.9,136.2L505.1,134.0L496.5,130.4M513.0,136.2L509.2,134.3L505.3,130.2M512.5,136.4L508.1,133.5L501.2,131.9M512.6,135.4L508.3,130.2L502.1,124.0M511.8,135.2L504.7,129.5L495.3,122.1M513.0,136.1L510.1,133.1L505.6,129.9M512.8,136.5L509.4,134.4L504.4,132.8M511.9,135.1L505.6,128.3L496.2,120.8M511.6,135.7L503.8,131.9L493.8,126.4M513.1,135.9L509.8,133.0L506.5,128.2M512.8,135.4L509.2,130.0L503.9,123.4M512.4,135.9L507.0,132.9L500.4,128.2" stroke="#b0b0b0" stroke-width="0.35" stroke-dasharray="0.7 0.8" fill="none"/>
<path d="M501.2,131.9h0.6M502.1,124.0h0.6M504.4,132.8h0.6M506.5,128.2h0.6M503.9,123.4h0.6" stroke="#b0b0b0" stroke-width="0.6" fill="none"/>
<path d="M513.0,138.6L510.0,143.6L505.5,149.9M512.8,139.1L508.1,144.9L504.3,154.1M512.6,138.5L507.9,143.0L501.9,149.1M513.0,138.6L510.5,143.9L505.8,150.2M511.8,139.1L504.1,144.9L495.7,154.5M512.4,139.2L506.9,145.9L501.0,155.7" stroke="#b0b0b0" stroke-width="0.35" stroke-dasharray="0.7 0.8" fill="none"/>
<path d="M505.5,149.9h0.6M501.9,149.1h0.6M495.7,154.5h0.6" stroke="#b0b0b0" stroke-width="0.6" fill="none"/>
<path d="M563.2,162.2L556.8,168.4L550.2,178.1M562.7,162.2L556.9,170.5L546.0,178.6M562.8,161.4L555.3,164.8L546.8,171.8M564.1,161.5L561.2,166.2L557.6,172.4M564.8,161.7L564.8,166.9L563.6,173.8M563.9,161.1L559.9,163.9L555.6,168.8M564.1,161.1L561.9,165.3L557.3,169.5M564.5,161.6L562.1,166.3L561.1,173.3M563.8,163.1L560.0,172.7L555.3,185.5M564.1,163.1L560.5,172.7L557.5,185.9M563.5,161.1L559.0,164.8L552.5,169.0M564.7,161.3L564.1,165.5L562.5,170.9M564.8,162.7L564.5,171.1L563.0,182.1M563.3,161.4L558.2,166.4L550.7,172.0M564.1,161.0L560.7,163.4L557.4,168.0M562.8,162.1L557.2,169.9L546.8,177.4M564.0,162.2L562.1,169.8L556.3,178.5M564.2,163.2L562.7,173.4L558.0,186.3M562.3,161.8L554.2,168.0L542.6,175.0M563.4,162.4L559.5,170.7L551.7,179.9M562.7,162.0L556.7,169.6L545.8,176.8M564.7,161.9L563.3,167.9L562.2,175.9M563.7,162.9L559.5,172.1L554.3,184.4M564.4,161.5L563.3,166.4L560.0,172.2M562.7,162.5L556.6,171.1L546.0,180.5M563.0,161.2L556.7,165.2L548.1,170.0M563.2,162.4L557.5,169.9L549.8,179.7M564.6,163.1L565.0,173.2L561.3,186.2M563.8,160.9L559.9,163.5L555.4,167.8M563.1,162.2L558.4,170.2L549.6,178.6M564.3,162.9L562.9,172.4L559.2,184.5M562.4,161.5L553.2,164.7L543.1,172.7M563.5,162.4L559.0,169.9L552.8,179.6M564.3,161.3L562.3,165.7L559.2,171.2" stroke="#b0b0b0" stroke-width="0.35" stroke-dasharray="0.7 0.8" fill="none"/>
<path d="M546.0,178.6h0.6M546.8,171.8h0.6M555.6,168.8h0.6M552.5,169.0h0.6M563.0,182.1h0.6M550.7,172.0h0.6M557.4,168.0h0.6M556.3,178.5h0.6M542.6,175.0h0.6M554.3,184.4h0.6M560.0,172.2h0.6M546.0,180.5h0.6M548.1,170.0h0.6M549.8,179.7h0.6M561.3,186.2h0.6M549.6,178.6h0.6M559.2,184.5h0.6M543.1,172.7h0.6M552.8,179.6h0.6" stroke="#b0b0b0" stroke-width="0.6" fill="none"/>
<path d="M569.7,160.1L584.7,160.2L604.5,160.6M569.0,158.9L581.6,155.4L598.4,151.1M569.5,159.4L583.6,156.2L602.5,155.0M568.2,160.0L578.4,160.1L591.8,159.8M568.7,159.3L580.5,158.4L595.6,154.0" stroke="#c4c4c4" stroke-width="0.35" stroke-dasharray="0.7 0.8" fill="none"/>
<path d="M604.5,160.6h0.6M595.6,154.0h0.6" stroke="#b0b0b0" stroke-width="0.6" fill="none"/>
<path d="M550.2,136.0L553.0,129.1L558.9,121.1M549.6,136.8L552.3,133.6L554.3,128.4M549.9,136.7L552.7,132.4L556.6,126.9M550.1,136.1L552.5,129.7L558.0,122.4M549.6,136.8L551.5,133.0L554.3,128.1M549.6,137.0L551.2,133.9L553.9,130.0" stroke="#b4b4b4" stroke-width="0.35" stroke-dasharray="0.7 0.8" fill="none"/>
<path d="M554.3,128.4h0.6M556.6,126.9h0.6M558.0,122.4h0.6" stroke="#b0b0b0" stroke-width="0.6" fill="none"/>
<path d="M514,137 L565,160 M530,160 L545,150 M508,172 L532,158 M565,160 L595,148" stroke="#d6d6d6" stroke-width="0.3" fill="none"/>
<g fill="#22e07a">
<circle cx="531" cy="127" r="2.6"/>
<circle cx="534" cy="131" r="3.2"/>
<circle cx="529" cy="124" r="1.8"/>
<circle cx="537" cy="129" r="2.2"/>
<circle cx="536" cy="137.5" r="3.0"/>
<circle cx="532" cy="134" r="2.0"/>
<circle cx="540" cy="121" r="1.0"/>
<circle cx="541" cy="118" r="0.9"/>
<circle cx="539" cy="125" r="1.3"/>
<circle cx="530" cy="120" r="1.2"/>
<circle cx="528" cy="129" r="1.3"/>
</g>
<path d="M536,137 L540,119" stroke="#22e07a" stroke-width="0.9"/>
<g fill="#d8f020"><circle cx="536.7" cy="144.5" r="1.9"/></g>
<g fill="#f4f000"><circle cx="537" cy="150.5" r="1.9"/><circle cx="543" cy="148" r="2.4"/><circle cx="534" cy="152" r="1.1"/></g>
<g fill="#9ef020"><circle cx="544.5" cy="141" r="1.5"/><circle cx="543.5" cy="144" r="1"/></g>
<path d="M524,152 L535,145" stroke="#2ae08a" stroke-width="1.1"/><circle cx="524.3" cy="152" r="0.9" fill="#2ae08a"/><circle cx="525.5" cy="159.3" r="1.3" fill="#2ae0a0"/>
<circle cx="565.5" cy="160" r="5.2" fill="#34eca0"/><path d="M565.5,160 L570.7,160 A5.2,5.2 0 0 1 560.5,161.5 Z" fill="#3ce070"/>
<g fill="#30e0a0"><circle cx="559" cy="155" r="1.7"/><circle cx="575.5" cy="155.6" r="2.3"/><circle cx="579.7" cy="154.8" r="1.6"/><circle cx="583" cy="154.6" r="1.2"/><circle cx="561" cy="163.5" r="1"/><circle cx="553" cy="163" r="1"/><circle cx="557" cy="149" r="1"/></g>
</g>

<g clip-path="url(#mapclip)"><g id="s1mapov">
<g fill="#9a9aa4" opacity="0.22">
<circle cx="668.5" cy="165.5" r="2.8"/>
<circle cx="658.2" cy="155.7" r="3.1"/>
<circle cx="666.0" cy="146.0" r="2.5"/>
<circle cx="663.0" cy="155.6" r="2.2"/>
<circle cx="660.7" cy="153.5" r="3.1"/>
<circle cx="663.6" cy="160.8" r="1.6"/>
<circle cx="674.5" cy="154.8" r="3.3"/>
<circle cx="661.6" cy="153.6" r="2.2"/>
<circle cx="659.5" cy="155.1" r="3.4"/>
<circle cx="660.2" cy="158.4" r="3.1"/>
<circle cx="674.4" cy="168.0" r="2.4"/>
<circle cx="656.9" cy="152.6" r="2.5"/>
<circle cx="663.7" cy="157.0" r="3.2"/>
<circle cx="664.2" cy="168.9" r="1.9"/>
<circle cx="677.5" cy="151.7" r="3.0"/>
<circle cx="663.7" cy="144.5" r="3.0"/>
<circle cx="668.7" cy="161.3" r="3.2"/>
<circle cx="667.8" cy="172.3" r="3.3"/>
<circle cx="657.4" cy="159.1" r="2.4"/>
<circle cx="645.9" cy="172.1" r="2.3"/>
<circle cx="666.1" cy="155.6" r="2.9"/>
<circle cx="671.2" cy="154.6" r="2.5"/>
<circle cx="652.0" cy="150.9" r="1.9"/>
<circle cx="656.1" cy="148.6" r="2.7"/>
<circle cx="664.8" cy="159.4" r="2.2"/>
<circle cx="668.8" cy="151.7" r="2.7"/>
<circle cx="661.9" cy="158.5" r="1.6"/>
<circle cx="667.7" cy="142.2" r="2.2"/>
<circle cx="658.7" cy="144.0" r="3.3"/>
<circle cx="669.9" cy="152.9" r="3.5"/>
<circle cx="672.1" cy="152.4" r="3.3"/>
<circle cx="656.2" cy="155.4" r="2.0"/>
<circle cx="666.0" cy="151.7" r="1.6"/>
<circle cx="667.1" cy="142.0" r="2.5"/>
<circle cx="664.2" cy="152.8" r="2.0"/>
<circle cx="661.2" cy="163.1" r="1.8"/>
<circle cx="668.8" cy="158.1" r="3.3"/>
<circle cx="674.5" cy="153.6" r="2.5"/>
<circle cx="662.8" cy="175.2" r="2.6"/>
<circle cx="662.8" cy="153.1" r="1.9"/>
<circle cx="669.6" cy="142.9" r="3.3"/>
<circle cx="657.1" cy="150.0" r="2.7"/>
<circle cx="666.5" cy="149.4" r="2.6"/>
<circle cx="661.1" cy="168.5" r="1.5"/>
<circle cx="656.1" cy="136.8" r="1.5"/>
<circle cx="654.6" cy="148.6" r="3.2"/>
<circle cx="658.3" cy="151.9" r="2.3"/>
<circle cx="677.7" cy="150.5" r="1.8"/>
<circle cx="665.6" cy="157.0" r="1.6"/>
<circle cx="659.4" cy="156.4" r="3.2"/>
<circle cx="661.0" cy="151.6" r="2.6"/>
<circle cx="659.3" cy="163.3" r="1.9"/>
<circle cx="665.2" cy="159.4" r="2.3"/>
<circle cx="660.8" cy="145.2" r="1.6"/>
<circle cx="659.5" cy="139.2" r="3.0"/>
<circle cx="663.2" cy="154.0" r="2.4"/>
<circle cx="674.0" cy="160.3" r="1.9"/>
<circle cx="661.7" cy="149.1" r="2.9"/>
<circle cx="662.2" cy="157.2" r="2.3"/>
<circle cx="657.5" cy="171.0" r="2.1"/>
</g>
<circle cx="674.4" cy="129.4" r="4.3" fill="#a0a8b8" opacity="0.5"/>
<g fill="#3ee88a">
<ellipse cx="659" cy="136.6" rx="2" ry="1.5"/>
<ellipse cx="663.5" cy="136.8" rx="2.5" ry="1.5"/>
<ellipse cx="670.3" cy="134" rx="2" ry="1.5"/>
<ellipse cx="669.8" cy="127" rx="1.3" ry="1.3"/>
<ellipse cx="663.3" cy="141" rx="1.5" ry="1.5"/>
<ellipse cx="658" cy="142" rx="1" ry="2"/>
<ellipse cx="654" cy="145.4" rx="1.2" ry="1.2"/>
<ellipse cx="668" cy="144.5" rx="1.5" ry="1.5"/>
<ellipse cx="673.5" cy="142.6" rx="2" ry="1.2"/>
<ellipse cx="680" cy="153" rx="2" ry="2"/>
<ellipse cx="684" cy="151" rx="2" ry="2.5"/>
<ellipse cx="660" cy="151" rx="1.5" ry="1.5"/>
<ellipse cx="655" cy="160.7" rx="2" ry="1.5"/>
<ellipse cx="669.5" cy="158" rx="1.5" ry="1.5"/>
<ellipse cx="674.5" cy="162" rx="1.5" ry="1.5"/>
<ellipse cx="680.5" cy="157.5" rx="3" ry="1.5"/>
<ellipse cx="670.4" cy="165.5" rx="1.2" ry="1.2"/>
<ellipse cx="661.6" cy="173" rx="1.2" ry="1.2"/>
<ellipse cx="677.8" cy="152" rx="1.5" ry="1.2"/>
<ellipse cx="694" cy="162" rx="1.2" ry="1.2"/>
<ellipse cx="690" cy="156" rx="1.5" ry="1.2"/>
<ellipse cx="666" cy="159" rx="1.5" ry="1.5"/>
</g>
<circle cx="672" cy="147.2" r="2.4" fill="#44e870"/><path d="M672,144.8 A2.4,2.4 0 0 1 672,149.6 Z" fill="#f0f000"/>
<g fill="#e6ec10"><ellipse cx="665.5" cy="133.5" rx="0.9" ry="2"/><ellipse cx="657.7" cy="142.4" rx="0.7" ry="2"/><ellipse cx="655" cy="157" rx="1" ry="1.5"/><ellipse cx="679.5" cy="145" rx="1" ry="2"/><circle cx="693" cy="157" r="1.5"/></g>
</g>
</g>
<use href="#shotbase" transform="translate(466.4,319.4) scale(1.0042,1.0027) translate(-466.5,-56.5)"/>
<g transform="translate(466.4,319.4) scale(1.0042,1.0027) translate(-466.5,-56.5)"><g id="s2legend" transform="translate(0,0)">
<rect x="729.3" y="77.10" width="1.6" height="2.4" fill="none" stroke="#dddddd" stroke-width="0.5"/>
<circle cx="733.6" cy="78.30" r="1.35" fill="#f4f400"/>
<rect x="735.9" y="77.80" width="12.4" height="1.0" fill="#d6dde8"/>
<rect x="729.3" y="81.64" width="1.6" height="2.4" fill="none" stroke="#dddddd" stroke-width="0.5"/>
<circle cx="733.6" cy="82.84" r="1.35" fill="#d6f000"/>
<rect x="735.9" y="82.34" width="11.9" height="1.0" fill="#d6dde8"/>
<rect x="729.3" y="86.18" width="1.6" height="2.4" fill="none" stroke="#dddddd" stroke-width="0.5"/>
<circle cx="733.6" cy="87.38" r="1.35" fill="#b4f000"/>
<rect x="735.9" y="86.88" width="11.6" height="1.0" fill="#d6dde8"/>
<rect x="729.3" y="90.72" width="1.6" height="2.4" fill="none" stroke="#dddddd" stroke-width="0.5"/>
<circle cx="733.6" cy="91.92" r="1.35" fill="#8ef000"/>
<rect x="735.9" y="91.42" width="12.5" height="1.0" fill="#d6dde8"/>
<rect x="729.3" y="95.26" width="1.6" height="2.4" fill="none" stroke="#dddddd" stroke-width="0.5"/>
<circle cx="733.6" cy="96.46" r="1.35" fill="#3ee820"/>
<rect x="735.9" y="95.96" width="11.1" height="1.0" fill="#d6dde8"/>
<rect x="729.3" y="99.80" width="1.6" height="2.4" fill="none" stroke="#dddddd" stroke-width="0.5"/>
<circle cx="733.6" cy="101.00" r="1.35" fill="#22e86a"/>
<rect x="735.9" y="100.50" width="12.3" height="1.0" fill="#d6dde8"/>
<rect x="729.3" y="104.34" width="1.6" height="2.4" fill="none" stroke="#dddddd" stroke-width="0.5"/>
<circle cx="733.6" cy="105.54" r="1.35" fill="#22e8b0"/>
<rect x="735.9" y="105.04" width="11.4" height="1.0" fill="#d6dde8"/>
<rect x="729.3" y="108.88" width="1.6" height="2.4" fill="none" stroke="#a6c2ea" stroke-width="0.5"/>
<circle cx="733.6" cy="110.08" r="1.35" fill="#18e4e0"/>
<rect x="735.9" y="109.58" width="11.2" height="1.0" fill="#d6dde8"/>
<rect x="729.3" y="113.42" width="1.6" height="2.4" fill="none" stroke="#a6c2ea" stroke-width="0.5"/>
<circle cx="733.6" cy="114.62" r="1.35" fill="#18dcf4"/>
<rect x="735.9" y="114.12" width="11.2" height="1.0" fill="#d6dde8"/>
<rect x="729.3" y="117.96" width="1.6" height="2.4" fill="none" stroke="#a6c2ea" stroke-width="0.5"/>
<circle cx="733.6" cy="119.16" r="1.35" fill="#14c4f4"/>
<rect x="735.9" y="118.66" width="11.5" height="1.0" fill="#d6dde8"/>
<rect x="729.3" y="122.50" width="1.6" height="2.4" fill="none" stroke="#a6c2ea" stroke-width="0.5"/>
<circle cx="733.6" cy="123.70" r="1.35" fill="#18a6f2"/>
<rect x="735.9" y="123.20" width="12.2" height="1.0" fill="#d6dde8"/>
<rect x="729.3" y="127.04" width="1.6" height="2.4" fill="none" stroke="#a6c2ea" stroke-width="0.5"/>
<circle cx="733.6" cy="128.24" r="1.35" fill="#2a7cf0"/>
<rect x="735.9" y="127.74" width="11.3" height="1.0" fill="#d6dde8"/>
<rect x="729.3" y="131.58" width="1.6" height="2.4" fill="none" stroke="#a6c2ea" stroke-width="0.5"/>
<circle cx="733.6" cy="132.78" r="1.35" fill="#3434f0"/>
<rect x="735.9" y="132.28" width="11.9" height="1.0" fill="#d6dde8"/>
<rect x="729.3" y="136.12" width="1.6" height="2.4" fill="none" stroke="#a6c2ea" stroke-width="0.5"/>
<circle cx="733.6" cy="137.32" r="1.35" fill="#2424d4"/>
<rect x="735.9" y="136.82" width="12.0" height="1.0" fill="#d6dde8"/>
<rect x="729.3" y="140.66" width="1.6" height="2.4" fill="none" stroke="#a6c2ea" stroke-width="0.5"/>
<circle cx="733.6" cy="141.86" r="1.35" fill="#20209e"/>
<rect x="735.9" y="141.36" width="11.6" height="1.0" fill="#d6dde8"/>
<rect x="729.3" y="145.20" width="1.6" height="2.4" fill="none" stroke="#a6c2ea" stroke-width="0.5"/>
<circle cx="733.6" cy="146.40" r="1.35" fill="#1e1e8a"/>
<rect x="735.9" y="145.90" width="11.8" height="1.0" fill="#d6dde8"/>
<rect x="729.3" y="149.74" width="1.6" height="2.4" fill="none" stroke="#a6c2ea" stroke-width="0.5"/>
<circle cx="733.6" cy="150.94" r="1.35" fill="#1c1c6e"/>
<rect x="735.9" y="150.44" width="11.1" height="1.0" fill="#d6dde8"/>
</g>
<use href="#mapbaseg"/></g>
<g id="s2tree">
<path d="M526.2,407.8L529.9,407.0L534.9,406.4M526.2,408.0L530.0,407.5L535.0,407.7M527.6,407.9L535.7,408.3L546.3,407.6M526.8,408.7L532.5,410.8L539.9,414.1M526.0,407.9L529.2,408.2L533.3,407.4M526.7,408.1L532.0,407.9L538.9,408.5M526.4,408.1L530.9,408.4L536.9,408.5M526.9,410.0L533.2,416.1L540.7,425.0M527.4,410.0L535.9,414.9L544.7,424.6M526.8,409.6L532.8,414.0L539.6,421.2M526.1,408.8L529.6,411.4L534.5,414.4M526.7,407.8L531.9,406.7L538.9,406.2" stroke="#d4d4d4" stroke-width="0.3" stroke-dasharray="0.7 0.8" fill="none"/>
<path d="M546.3,407.6h0.6M533.3,407.4h0.6M540.7,425.0h0.6M534.5,414.4h0.6M538.9,406.2h0.6" stroke="#b0b0b0" stroke-width="0.6" fill="none"/>
<path d="M516,396 L540,412 L560,425 M538,408 L552,388 M520,418 L536,410 M536,402 L528,420 M595,420 L610,417" stroke="#d0d0d0" stroke-width="0.35" fill="none"/>
<path d="M500,366.5 L506,365 L511,367.5 L513.5,373 L514.5,381 L512.5,386 L514.5,392 L515.5,400 L513.5,406 L508,410 L503,414 L500,420 L496.5,423 L494.5,418 L494.5,411 L492,404 L492.5,395 L494.5,389 L500,387.5 L502,386.5 L497,382 L494,376 L495.5,370 Z" fill="#0c0cd0"/>
<path d="M496,400 L507,402 L503,414 L500,420 L496.5,423 L494.5,418 L494.5,411 Z" fill="#0a0a9c"/>
<g fill="#0c0cdc" opacity="1.0">
<circle cx="507.5" cy="376.3" r="1.10"/>
<circle cx="508.7" cy="372.3" r="1.52"/>
<circle cx="508.8" cy="377.7" r="1.64"/>
<circle cx="498.3" cy="374.0" r="1.68"/>
<circle cx="504.9" cy="375.1" r="1.56"/>
<circle cx="505.3" cy="375.3" r="1.53"/>
<circle cx="508.5" cy="369.8" r="1.75"/>
<circle cx="505.5" cy="376.5" r="0.92"/>
<circle cx="506.9" cy="374.7" r="0.96"/>
<circle cx="506.1" cy="375.1" r="0.84"/>
<circle cx="503.6" cy="376.9" r="1.11"/>
<circle cx="507.2" cy="374.0" r="1.61"/>
<circle cx="504.6" cy="370.0" r="1.38"/>
<circle cx="505.6" cy="370.0" r="1.03"/>
<circle cx="503.6" cy="377.6" r="1.20"/>
<circle cx="509.2" cy="374.7" r="0.87"/>
<circle cx="496.4" cy="371.4" r="1.25"/>
<circle cx="498.8" cy="370.3" r="0.86"/>
<circle cx="498.7" cy="370.6" r="1.10"/>
<circle cx="498.2" cy="371.7" r="0.84"/>
<circle cx="501.9" cy="371.1" r="1.49"/>
<circle cx="500.9" cy="370.4" r="1.75"/>
<circle cx="500.5" cy="369.3" r="1.33"/>
<circle cx="497.8" cy="370.9" r="1.18"/>
<circle cx="498.8" cy="369.9" r="1.65"/>
<circle cx="496.8" cy="370.9" r="1.62"/>
<circle cx="498.4" cy="370.3" r="1.05"/>
<circle cx="499.3" cy="371.0" r="1.75"/>
<circle cx="496.5" cy="369.4" r="1.58"/>
<circle cx="497.8" cy="373.7" r="1.72"/>
<circle cx="498.4" cy="371.2" r="1.12"/>
<circle cx="499.8" cy="372.4" r="0.88"/>
<circle cx="502.3" cy="365.1" r="1.01"/>
<circle cx="503.4" cy="365.6" r="1.28"/>
<circle cx="504.4" cy="366.4" r="1.62"/>
<circle cx="505.9" cy="367.4" r="0.98"/>
<circle cx="505.8" cy="367.0" r="1.52"/>
<circle cx="501.8" cy="365.5" r="1.18"/>
<circle cx="504.1" cy="367.7" r="1.75"/>
<circle cx="504.2" cy="366.9" r="1.24"/>
<circle cx="500.3" cy="367.6" r="0.81"/>
<circle cx="503.6" cy="366.2" r="1.35"/>
<circle cx="503.5" cy="367.3" r="1.68"/>
<circle cx="500.1" cy="367.0" r="1.66"/>
<circle cx="503.0" cy="366.6" r="1.39"/>
<circle cx="505.0" cy="366.9" r="0.87"/>
<circle cx="504.2" cy="368.8" r="1.78"/>
<circle cx="503.0" cy="368.0" r="1.51"/>
<circle cx="508.3" cy="367.0" r="1.78"/>
<circle cx="508.2" cy="366.2" r="0.82"/>
<circle cx="507.3" cy="366.9" r="0.98"/>
<circle cx="510.4" cy="367.9" r="1.72"/>
<circle cx="508.1" cy="367.9" r="1.44"/>
<circle cx="508.4" cy="366.9" r="1.07"/>
<circle cx="509.2" cy="367.7" r="0.89"/>
<circle cx="508.4" cy="367.5" r="1.65"/>
<circle cx="508.1" cy="368.8" r="1.61"/>
<circle cx="508.9" cy="367.6" r="1.37"/>
<circle cx="507.6" cy="367.2" r="0.92"/>
<circle cx="507.3" cy="366.7" r="1.25"/>
<circle cx="508.9" cy="368.9" r="1.10"/>
<circle cx="510.6" cy="367.0" r="0.80"/>
<circle cx="508.4" cy="367.2" r="1.59"/>
<circle cx="508.6" cy="367.2" r="1.75"/>
<circle cx="496.5" cy="372.9" r="1.37"/>
<circle cx="497.8" cy="376.3" r="1.10"/>
<circle cx="494.7" cy="374.7" r="1.27"/>
<circle cx="497.9" cy="375.3" r="1.29"/>
<circle cx="494.6" cy="376.7" r="1.66"/>
<circle cx="495.6" cy="372.2" r="1.15"/>
<circle cx="496.8" cy="376.0" r="1.40"/>
<circle cx="496.4" cy="372.6" r="1.43"/>
<circle cx="494.7" cy="373.6" r="1.37"/>
<circle cx="497.4" cy="375.2" r="1.08"/>
<circle cx="497.3" cy="376.0" r="1.64"/>
<circle cx="495.7" cy="377.3" r="1.43"/>
<circle cx="495.2" cy="372.5" r="1.50"/>
<circle cx="497.3" cy="376.1" r="1.15"/>
<circle cx="494.6" cy="376.2" r="0.97"/>
<circle cx="494.7" cy="372.9" r="0.88"/>
</g>
<g fill="#0b0bc4" opacity="1.0">
<circle cx="496.8" cy="395.4" r="1.62"/>
<circle cx="501.8" cy="404.1" r="1.69"/>
<circle cx="505.8" cy="396.4" r="1.45"/>
<circle cx="498.6" cy="394.4" r="1.77"/>
<circle cx="497.5" cy="397.1" r="1.74"/>
<circle cx="500.1" cy="395.1" r="1.11"/>
<circle cx="501.5" cy="398.0" r="1.41"/>
<circle cx="502.5" cy="393.2" r="1.65"/>
<circle cx="508.7" cy="395.5" r="1.48"/>
<circle cx="504.2" cy="399.0" r="1.78"/>
<circle cx="502.2" cy="401.1" r="1.70"/>
<circle cx="503.0" cy="395.7" r="1.12"/>
<circle cx="503.2" cy="401.7" r="0.81"/>
<circle cx="498.6" cy="397.4" r="1.19"/>
<circle cx="503.9" cy="400.0" r="0.83"/>
<circle cx="508.3" cy="393.2" r="1.36"/>
<circle cx="498.9" cy="408.9" r="0.92"/>
<circle cx="497.7" cy="408.7" r="1.08"/>
<circle cx="498.4" cy="409.4" r="1.45"/>
<circle cx="495.5" cy="408.7" r="1.16"/>
<circle cx="494.6" cy="407.2" r="1.11"/>
<circle cx="500.3" cy="409.1" r="1.18"/>
<circle cx="498.2" cy="406.9" r="1.67"/>
<circle cx="500.8" cy="408.3" r="1.24"/>
<circle cx="496.5" cy="411.4" r="1.50"/>
<circle cx="499.4" cy="410.2" r="1.41"/>
<circle cx="498.9" cy="408.2" r="1.40"/>
<circle cx="497.7" cy="405.5" r="1.22"/>
<circle cx="496.2" cy="407.9" r="1.68"/>
<circle cx="500.5" cy="407.4" r="0.82"/>
<circle cx="495.2" cy="410.1" r="1.12"/>
<circle cx="499.1" cy="408.9" r="1.51"/>
<circle cx="496.3" cy="413.7" r="1.42"/>
<circle cx="497.1" cy="411.1" r="1.63"/>
<circle cx="495.4" cy="416.4" r="1.73"/>
<circle cx="498.1" cy="412.5" r="1.39"/>
<circle cx="495.2" cy="414.7" r="1.43"/>
<circle cx="496.9" cy="413.4" r="0.89"/>
<circle cx="496.8" cy="417.9" r="1.37"/>
<circle cx="497.2" cy="416.4" r="1.75"/>
<circle cx="498.7" cy="416.7" r="1.57"/>
<circle cx="495.2" cy="413.2" r="1.48"/>
<circle cx="498.9" cy="415.2" r="1.21"/>
<circle cx="498.5" cy="413.2" r="0.94"/>
<circle cx="497.2" cy="415.1" r="1.58"/>
<circle cx="497.2" cy="413.4" r="0.91"/>
<circle cx="495.8" cy="417.6" r="1.54"/>
<circle cx="498.3" cy="412.1" r="1.55"/>
<circle cx="493.1" cy="391.8" r="0.81"/>
<circle cx="494.0" cy="390.3" r="1.13"/>
<circle cx="493.7" cy="393.1" r="1.14"/>
<circle cx="491.8" cy="392.1" r="1.00"/>
<circle cx="493.7" cy="392.6" r="0.93"/>
<circle cx="494.0" cy="393.0" r="0.93"/>
<circle cx="493.4" cy="390.0" r="1.26"/>
<circle cx="492.5" cy="391.0" r="0.82"/>
<circle cx="493.9" cy="392.7" r="1.16"/>
<circle cx="493.0" cy="393.5" r="1.63"/>
<circle cx="494.2" cy="392.1" r="1.18"/>
<circle cx="492.7" cy="394.4" r="1.02"/>
<circle cx="493.6" cy="392.3" r="1.78"/>
<circle cx="492.7" cy="392.7" r="1.77"/>
<circle cx="491.8" cy="389.7" r="1.13"/>
<circle cx="493.1" cy="391.6" r="1.04"/>
<circle cx="492.4" cy="400.1" r="1.59"/>
<circle cx="490.6" cy="403.8" r="0.88"/>
<circle cx="491.5" cy="401.2" r="1.00"/>
<circle cx="492.9" cy="400.8" r="1.61"/>
<circle cx="491.6" cy="404.4" r="1.71"/>
<circle cx="491.4" cy="401.1" r="1.47"/>
<circle cx="493.7" cy="401.2" r="1.24"/>
<circle cx="491.6" cy="402.4" r="1.57"/>
<circle cx="492.4" cy="403.0" r="0.83"/>
<circle cx="492.6" cy="403.4" r="1.28"/>
<circle cx="492.5" cy="403.6" r="1.56"/>
<circle cx="492.5" cy="402.5" r="1.32"/>
<circle cx="493.6" cy="400.4" r="1.37"/>
<circle cx="493.5" cy="403.5" r="1.79"/>
<circle cx="493.1" cy="400.8" r="1.18"/>
<circle cx="490.5" cy="400.6" r="1.79"/>
<circle cx="510.7" cy="404.1" r="1.11"/>
<circle cx="510.7" cy="403.7" r="1.08"/>
<circle cx="510.2" cy="404.5" r="1.04"/>
<circle cx="512.0" cy="405.0" r="1.66"/>
<circle cx="511.4" cy="405.7" r="1.73"/>
<circle cx="513.2" cy="402.8" r="0.99"/>
<circle cx="510.3" cy="404.5" r="1.05"/>
<circle cx="510.5" cy="402.9" r="1.73"/>
<circle cx="511.7" cy="404.5" r="0.83"/>
<circle cx="511.4" cy="405.3" r="1.08"/>
<circle cx="512.7" cy="402.6" r="1.42"/>
<circle cx="512.5" cy="403.1" r="1.45"/>
<circle cx="511.4" cy="404.8" r="0.91"/>
<circle cx="512.5" cy="402.2" r="0.83"/>
<circle cx="511.9" cy="403.6" r="1.22"/>
<circle cx="511.2" cy="405.7" r="1.23"/>
<circle cx="506.4" cy="388.9" r="1.05"/>
<circle cx="508.0" cy="389.4" r="0.81"/>
<circle cx="505.6" cy="388.5" r="1.47"/>
<circle cx="507.8" cy="391.0" r="0.88"/>
<circle cx="506.6" cy="389.4" r="0.98"/>
<circle cx="510.4" cy="388.6" r="0.93"/>
<circle cx="509.2" cy="390.6" r="1.17"/>
<circle cx="507.5" cy="389.9" r="1.13"/>
<circle cx="506.7" cy="388.5" r="1.39"/>
<circle cx="509.9" cy="389.5" r="1.38"/>
<circle cx="506.8" cy="390.7" r="1.73"/>
<circle cx="507.0" cy="388.0" r="0.97"/>
<circle cx="507.0" cy="388.3" r="0.96"/>
<circle cx="506.9" cy="388.8" r="1.44"/>
<circle cx="508.0" cy="388.9" r="1.43"/>
<circle cx="508.6" cy="390.0" r="1.52"/>
</g>
<circle cx="511.6" cy="390.5" r="3.4" fill="#1a70f0"/><circle cx="514.8" cy="400.2" r="2.5" fill="#1a1ae0"/>
<g fill="#22dce8" opacity="1.0">
<circle cx="531.4" cy="390.3" r="1.98"/>
<circle cx="538.7" cy="388.2" r="1.31"/>
<circle cx="537.8" cy="390.1" r="1.23"/>
<circle cx="537.8" cy="392.9" r="1.02"/>
<circle cx="534.4" cy="394.7" r="1.89"/>
<circle cx="535.0" cy="389.8" r="0.89"/>
<circle cx="534.9" cy="394.5" r="1.97"/>
<circle cx="536.5" cy="386.4" r="1.62"/>
<circle cx="533.4" cy="389.2" r="1.24"/>
<circle cx="535.9" cy="394.3" r="1.65"/>
<circle cx="532.4" cy="389.7" r="1.39"/>
<circle cx="535.0" cy="395.4" r="1.61"/>
<circle cx="535.0" cy="386.6" r="1.19"/>
<circle cx="536.7" cy="392.6" r="2.07"/>
<circle cx="535.8" cy="388.2" r="1.89"/>
<circle cx="532.5" cy="394.8" r="0.93"/>
<circle cx="534.7" cy="386.1" r="1.39"/>
<circle cx="533.6" cy="391.4" r="1.19"/>
<circle cx="535.2" cy="393.4" r="0.90"/>
<circle cx="534.6" cy="392.2" r="1.53"/>
<circle cx="533.3" cy="392.1" r="2.12"/>
<circle cx="533.8" cy="394.2" r="2.05"/>
<circle cx="538.2" cy="394.1" r="1.65"/>
<circle cx="538.4" cy="397.4" r="1.83"/>
<circle cx="537.2" cy="399.7" r="1.88"/>
<circle cx="537.9" cy="395.9" r="1.31"/>
<circle cx="537.5" cy="401.8" r="1.66"/>
<circle cx="537.9" cy="400.7" r="0.88"/>
<circle cx="537.8" cy="400.6" r="2.16"/>
<circle cx="539.3" cy="395.8" r="1.87"/>
<circle cx="538.0" cy="401.2" r="2.19"/>
<circle cx="539.6" cy="401.2" r="2.18"/>
<circle cx="536.2" cy="400.6" r="2.18"/>
<circle cx="539.1" cy="400.0" r="1.63"/>
<circle cx="538.4" cy="396.3" r="1.85"/>
<circle cx="537.2" cy="394.5" r="1.83"/>
<circle cx="539.4" cy="395.7" r="1.56"/>
<circle cx="536.3" cy="398.6" r="1.45"/>
<circle cx="536.3" cy="398.1" r="1.00"/>
<circle cx="535.7" cy="400.3" r="1.23"/>
<circle cx="540.7" cy="397.6" r="1.43"/>
<circle cx="538.6" cy="401.6" r="2.14"/>
<circle cx="537.1" cy="400.9" r="1.86"/>
<circle cx="537.4" cy="397.2" r="1.13"/>
<circle cx="530.6" cy="383.8" r="1.74"/>
<circle cx="530.5" cy="388.7" r="1.89"/>
<circle cx="528.3" cy="386.3" r="1.22"/>
<circle cx="529.0" cy="385.6" r="2.16"/>
<circle cx="532.5" cy="385.4" r="1.89"/>
<circle cx="530.2" cy="388.7" r="2.05"/>
<circle cx="530.8" cy="385.6" r="1.23"/>
<circle cx="531.9" cy="387.8" r="0.85"/>
<circle cx="531.7" cy="386.3" r="2.01"/>
<circle cx="528.8" cy="384.4" r="2.12"/>
<circle cx="528.5" cy="384.9" r="1.41"/>
<circle cx="530.2" cy="385.4" r="1.42"/>
<circle cx="532.6" cy="387.1" r="2.15"/>
<circle cx="533.5" cy="385.9" r="0.86"/>
<circle cx="533.0" cy="385.9" r="1.75"/>
<circle cx="528.9" cy="387.4" r="1.24"/>
<circle cx="532.5" cy="387.2" r="1.06"/>
<circle cx="531.2" cy="387.1" r="1.78"/>
<circle cx="530.5" cy="384.9" r="1.76"/>
<circle cx="533.9" cy="386.5" r="1.13"/>
<circle cx="529.4" cy="385.9" r="2.00"/>
<circle cx="530.0" cy="386.4" r="2.00"/>
</g>
<circle cx="536" cy="389" r="2.8" fill="#2ae6e6"/>
<g fill="#30c8ec" opacity="1.0">
<circle cx="551.0" cy="388.0" r="1.50"/>
<circle cx="553.8" cy="387.6" r="1.76"/>
<circle cx="551.1" cy="387.6" r="1.51"/>
<circle cx="554.0" cy="388.2" r="1.04"/>
<circle cx="552.6" cy="386.2" r="1.50"/>
<circle cx="551.4" cy="391.9" r="0.61"/>
<circle cx="552.8" cy="386.8" r="0.63"/>
<circle cx="552.8" cy="388.4" r="0.88"/>
<circle cx="552.6" cy="390.2" r="0.80"/>
<circle cx="555.0" cy="390.6" r="0.70"/>
<circle cx="553.3" cy="389.7" r="1.69"/>
<circle cx="550.9" cy="388.0" r="1.77"/>
<circle cx="547.9" cy="396.1" r="1.07"/>
<circle cx="548.9" cy="398.2" r="1.76"/>
<circle cx="547.3" cy="395.9" r="1.67"/>
<circle cx="549.8" cy="393.9" r="1.26"/>
<circle cx="549.9" cy="397.0" r="1.62"/>
<circle cx="547.5" cy="396.8" r="0.91"/>
<circle cx="548.3" cy="395.4" r="1.54"/>
<circle cx="549.1" cy="395.8" r="1.40"/>
<circle cx="550.6" cy="397.6" r="0.81"/>
<circle cx="550.3" cy="398.0" r="1.34"/>
<circle cx="550.3" cy="396.1" r="1.59"/>
<circle cx="549.9" cy="398.2" r="0.95"/>
<circle cx="555.2" cy="382.4" r="0.66"/>
<circle cx="555.2" cy="382.9" r="1.34"/>
<circle cx="555.5" cy="381.8" r="1.33"/>
<circle cx="555.6" cy="383.8" r="0.72"/>
<circle cx="556.1" cy="381.5" r="1.28"/>
<circle cx="555.4" cy="383.0" r="1.42"/>
<circle cx="556.0" cy="381.9" r="1.66"/>
<circle cx="555.8" cy="381.6" r="1.44"/>
<circle cx="556.3" cy="381.0" r="1.65"/>
<circle cx="556.5" cy="383.1" r="0.89"/>
<circle cx="556.3" cy="381.1" r="0.90"/>
<circle cx="556.9" cy="382.0" r="1.16"/>
</g>
<g fill="#36c8ea" opacity="1.0">
<circle cx="516.2" cy="419.2" r="1.56"/>
<circle cx="523.5" cy="415.9" r="1.46"/>
<circle cx="523.5" cy="417.0" r="0.77"/>
<circle cx="518.6" cy="415.5" r="1.12"/>
<circle cx="514.8" cy="416.5" r="1.41"/>
<circle cx="522.2" cy="416.8" r="1.39"/>
<circle cx="521.6" cy="416.1" r="0.64"/>
<circle cx="513.9" cy="417.0" r="1.08"/>
<circle cx="520.9" cy="418.9" r="0.86"/>
<circle cx="520.6" cy="416.4" r="1.15"/>
<circle cx="524.8" cy="414.3" r="0.65"/>
<circle cx="528.3" cy="412.2" r="0.91"/>
<circle cx="527.5" cy="414.3" r="1.52"/>
<circle cx="529.9" cy="413.0" r="1.17"/>
<circle cx="527.2" cy="414.3" r="1.21"/>
<circle cx="526.2" cy="414.9" r="0.59"/>
<circle cx="527.1" cy="413.8" r="0.68"/>
<circle cx="528.2" cy="413.3" r="0.91"/>
<circle cx="528.9" cy="412.5" r="1.19"/>
<circle cx="526.4" cy="413.6" r="1.12"/>
<circle cx="511.9" cy="420.7" r="1.21"/>
<circle cx="512.6" cy="422.2" r="0.89"/>
<circle cx="512.6" cy="421.4" r="1.37"/>
<circle cx="511.3" cy="420.9" r="1.50"/>
<circle cx="511.8" cy="421.7" r="0.50"/>
<circle cx="511.3" cy="422.0" r="1.49"/>
<circle cx="511.4" cy="421.9" r="0.59"/>
<circle cx="511.4" cy="420.3" r="0.91"/>
<circle cx="511.7" cy="422.3" r="1.58"/>
<circle cx="513.2" cy="421.7" r="0.62"/>
</g>
<g fill="#30d4ec" opacity="1.0">
<circle cx="517.4" cy="428.3" r="1.46"/>
<circle cx="520.9" cy="426.7" r="1.32"/>
<circle cx="515.8" cy="427.8" r="1.34"/>
<circle cx="521.7" cy="430.5" r="1.44"/>
<circle cx="517.3" cy="430.6" r="1.63"/>
<circle cx="512.5" cy="430.0" r="1.96"/>
<circle cx="518.8" cy="428.4" r="0.71"/>
<circle cx="517.2" cy="430.6" r="1.59"/>
<circle cx="520.0" cy="427.1" r="1.49"/>
<circle cx="517.3" cy="428.8" r="1.34"/>
<circle cx="518.8" cy="430.7" r="0.61"/>
<circle cx="514.8" cy="426.6" r="0.70"/>
<circle cx="517.4" cy="428.8" r="1.09"/>
<circle cx="521.0" cy="431.3" r="1.62"/>
<circle cx="527.0" cy="422.5" r="1.61"/>
<circle cx="525.4" cy="421.7" r="1.88"/>
<circle cx="525.0" cy="422.3" r="1.60"/>
<circle cx="524.8" cy="423.1" r="1.46"/>
<circle cx="527.8" cy="423.4" r="1.38"/>
<circle cx="528.3" cy="423.0" r="0.72"/>
<circle cx="525.1" cy="422.2" r="0.64"/>
<circle cx="526.6" cy="423.0" r="0.82"/>
<circle cx="524.7" cy="423.0" r="1.34"/>
<circle cx="523.9" cy="423.2" r="1.36"/>
<circle cx="525.7" cy="423.8" r="1.57"/>
<circle cx="524.2" cy="423.6" r="1.88"/>
<circle cx="527.4" cy="423.0" r="1.39"/>
<circle cx="528.4" cy="423.6" r="1.16"/>
<circle cx="509.5" cy="433.5" r="1.95"/>
<circle cx="512.6" cy="433.4" r="1.59"/>
<circle cx="511.9" cy="432.3" r="1.09"/>
<circle cx="507.3" cy="432.6" r="0.66"/>
<circle cx="511.4" cy="432.0" r="0.88"/>
<circle cx="511.4" cy="432.8" r="0.61"/>
<circle cx="509.8" cy="434.0" r="0.64"/>
<circle cx="508.5" cy="432.5" r="1.07"/>
<circle cx="510.1" cy="431.9" r="1.95"/>
<circle cx="511.9" cy="432.0" r="1.91"/>
<circle cx="511.1" cy="432.2" r="0.70"/>
<circle cx="507.9" cy="433.4" r="1.96"/>
<circle cx="508.8" cy="432.1" r="0.72"/>
<circle cx="509.8" cy="432.8" r="0.80"/>
</g>
<circle cx="518" cy="429" r="3.3" fill="#30d0f0"/>
<g fill="#2a9ae8" opacity="1.0">
<circle cx="558.7" cy="408.8" r="1.99"/>
<circle cx="565.4" cy="414.3" r="1.46"/>
<circle cx="559.4" cy="410.5" r="1.42"/>
<circle cx="560.7" cy="415.6" r="1.99"/>
<circle cx="555.2" cy="413.2" r="1.77"/>
<circle cx="561.7" cy="417.1" r="1.69"/>
<circle cx="563.6" cy="415.7" r="0.92"/>
<circle cx="558.1" cy="415.4" r="1.93"/>
<circle cx="565.3" cy="410.7" r="0.94"/>
<circle cx="558.4" cy="412.5" r="2.02"/>
<circle cx="562.1" cy="411.0" r="2.06"/>
<circle cx="560.4" cy="414.4" r="1.58"/>
<circle cx="558.5" cy="413.6" r="1.30"/>
<circle cx="556.6" cy="414.3" r="1.15"/>
<circle cx="559.2" cy="414.1" r="1.99"/>
<circle cx="561.1" cy="417.8" r="0.94"/>
<circle cx="563.2" cy="408.7" r="2.30"/>
<circle cx="562.5" cy="405.9" r="0.95"/>
<circle cx="561.0" cy="407.2" r="2.23"/>
<circle cx="558.1" cy="410.5" r="2.26"/>
<circle cx="563.4" cy="411.9" r="1.12"/>
<circle cx="556.6" cy="414.0" r="1.14"/>
<circle cx="557.4" cy="409.5" r="2.10"/>
<circle cx="562.1" cy="413.7" r="1.68"/>
<circle cx="557.0" cy="401.8" r="2.01"/>
<circle cx="557.0" cy="404.4" r="1.93"/>
<circle cx="556.8" cy="403.7" r="1.03"/>
<circle cx="556.3" cy="401.8" r="1.21"/>
<circle cx="556.9" cy="405.8" r="0.93"/>
<circle cx="556.6" cy="405.2" r="0.96"/>
<circle cx="554.1" cy="403.6" r="1.02"/>
<circle cx="556.2" cy="401.9" r="1.33"/>
<circle cx="555.4" cy="402.0" r="1.29"/>
<circle cx="555.1" cy="405.2" r="1.56"/>
<circle cx="557.7" cy="405.6" r="1.97"/>
<circle cx="555.7" cy="403.2" r="1.32"/>
<circle cx="558.1" cy="406.1" r="2.07"/>
<circle cx="557.1" cy="406.3" r="1.00"/>
<circle cx="558.0" cy="406.0" r="1.45"/>
<circle cx="556.5" cy="404.2" r="1.66"/>
<circle cx="555.8" cy="404.2" r="1.84"/>
<circle cx="557.3" cy="405.6" r="1.06"/>
<circle cx="558.4" cy="402.4" r="2.25"/>
<circle cx="555.6" cy="406.1" r="1.90"/>
<circle cx="559.7" cy="404.8" r="1.66"/>
<circle cx="556.2" cy="405.5" r="1.32"/>
<circle cx="557.2" cy="402.2" r="1.53"/>
<circle cx="554.8" cy="404.8" r="1.78"/>
</g>
<circle cx="562" cy="413" r="4.5" fill="#28a0ea"/><circle cx="557" cy="418" r="3" fill="#30d8f0"/>
<g fill="#30d4f0" opacity="1.0">
<circle cx="579.0" cy="419.7" r="1.11"/>
<circle cx="574.1" cy="419.2" r="1.83"/>
<circle cx="577.9" cy="419.7" r="1.09"/>
<circle cx="579.3" cy="414.8" r="2.21"/>
<circle cx="578.4" cy="417.1" r="1.48"/>
<circle cx="572.8" cy="419.0" r="2.19"/>
<circle cx="574.6" cy="416.8" r="1.95"/>
<circle cx="575.0" cy="417.5" r="1.31"/>
<circle cx="583.7" cy="417.0" r="0.87"/>
<circle cx="580.0" cy="420.5" r="1.79"/>
<circle cx="574.1" cy="414.4" r="2.08"/>
<circle cx="584.5" cy="415.3" r="1.42"/>
<circle cx="576.7" cy="418.2" r="1.49"/>
<circle cx="581.1" cy="421.2" r="2.01"/>
<circle cx="578.5" cy="421.0" r="1.92"/>
<circle cx="583.0" cy="419.6" r="1.97"/>
<circle cx="571.3" cy="417.8" r="0.94"/>
<circle cx="583.6" cy="417.9" r="1.87"/>
<circle cx="583.2" cy="417.1" r="1.74"/>
<circle cx="576.5" cy="418.0" r="2.11"/>
<circle cx="581.8" cy="414.8" r="1.15"/>
<circle cx="572.8" cy="416.0" r="1.63"/>
<circle cx="578.9" cy="415.1" r="2.21"/>
<circle cx="577.6" cy="415.6" r="0.94"/>
<circle cx="586.5" cy="421.5" r="2.24"/>
<circle cx="588.5" cy="422.4" r="1.98"/>
<circle cx="586.8" cy="424.9" r="1.10"/>
<circle cx="586.6" cy="422.1" r="2.27"/>
<circle cx="584.2" cy="424.1" r="0.86"/>
<circle cx="586.3" cy="423.6" r="1.16"/>
<circle cx="590.6" cy="422.7" r="0.99"/>
<circle cx="588.9" cy="424.2" r="2.20"/>
<circle cx="582.9" cy="423.5" r="1.87"/>
<circle cx="587.5" cy="423.8" r="1.65"/>
<circle cx="587.9" cy="421.4" r="1.26"/>
<circle cx="580.9" cy="422.4" r="1.13"/>
<circle cx="588.3" cy="424.6" r="1.35"/>
<circle cx="587.4" cy="423.9" r="2.18"/>
<circle cx="586.9" cy="424.5" r="2.31"/>
<circle cx="582.0" cy="425.1" r="2.14"/>
<circle cx="582.3" cy="423.2" r="0.83"/>
<circle cx="582.9" cy="424.3" r="2.38"/>
<circle cx="590.7" cy="424.2" r="2.33"/>
<circle cx="589.0" cy="421.7" r="1.89"/>
<circle cx="585.6" cy="423.3" r="1.46"/>
<circle cx="586.0" cy="422.3" r="1.57"/>
<circle cx="587.7" cy="423.3" r="2.15"/>
<circle cx="590.4" cy="423.6" r="1.23"/>
<circle cx="591.4" cy="428.4" r="1.51"/>
<circle cx="589.4" cy="426.5" r="1.85"/>
<circle cx="593.0" cy="427.6" r="2.12"/>
<circle cx="591.7" cy="427.4" r="1.28"/>
<circle cx="591.6" cy="427.9" r="1.04"/>
<circle cx="593.6" cy="425.8" r="1.12"/>
<circle cx="590.8" cy="426.9" r="1.82"/>
<circle cx="592.0" cy="427.0" r="0.83"/>
<circle cx="593.4" cy="427.1" r="1.95"/>
<circle cx="590.4" cy="427.1" r="1.06"/>
<circle cx="593.9" cy="425.9" r="1.02"/>
<circle cx="590.9" cy="427.7" r="1.35"/>
<circle cx="594.2" cy="427.6" r="1.71"/>
<circle cx="592.2" cy="427.0" r="1.89"/>
<circle cx="590.5" cy="427.3" r="2.16"/>
<circle cx="594.9" cy="427.3" r="2.24"/>
<circle cx="590.2" cy="427.1" r="1.03"/>
<circle cx="590.9" cy="426.1" r="1.36"/>
<circle cx="591.6" cy="426.7" r="1.39"/>
<circle cx="593.1" cy="426.8" r="2.39"/>
<circle cx="590.5" cy="428.0" r="2.16"/>
<circle cx="594.1" cy="428.0" r="1.07"/>
<circle cx="591.7" cy="427.9" r="1.55"/>
<circle cx="592.9" cy="426.9" r="1.78"/>
<circle cx="570.6" cy="412.3" r="1.11"/>
<circle cx="569.0" cy="410.8" r="2.24"/>
<circle cx="567.3" cy="412.3" r="0.99"/>
<circle cx="568.2" cy="413.8" r="2.39"/>
<circle cx="571.7" cy="413.2" r="1.94"/>
<circle cx="571.4" cy="409.9" r="1.44"/>
<circle cx="570.8" cy="409.8" r="1.35"/>
<circle cx="569.8" cy="412.5" r="1.28"/>
<circle cx="571.3" cy="414.5" r="1.65"/>
<circle cx="570.5" cy="409.3" r="1.98"/>
<circle cx="572.3" cy="412.6" r="1.34"/>
<circle cx="569.9" cy="413.5" r="0.89"/>
<circle cx="570.7" cy="411.6" r="1.17"/>
<circle cx="572.7" cy="411.1" r="1.59"/>
<circle cx="570.3" cy="414.8" r="0.87"/>
<circle cx="569.6" cy="411.9" r="2.17"/>
<circle cx="569.8" cy="410.6" r="0.81"/>
<circle cx="571.2" cy="412.9" r="1.27"/>
<circle cx="571.5" cy="409.9" r="1.06"/>
<circle cx="572.2" cy="411.9" r="1.35"/>
<circle cx="569.7" cy="412.0" r="0.88"/>
<circle cx="567.4" cy="411.9" r="2.36"/>
<circle cx="571.8" cy="412.1" r="1.66"/>
<circle cx="569.9" cy="413.2" r="0.80"/>
</g>
<circle cx="577" cy="416" r="4" fill="#28c4f0"/><circle cx="584" cy="422" r="2.6" fill="#30d8f0"/>
<path d="M541,428 L552,423 L566,426 L573,433 L569,440 L571,447 L565,446 L560,451 L556,446 L552,452 L548,446 L542,449 L539,443 L536,436 Z" fill="#2cc4ee"/>
<g fill="#30d0f2" opacity="1.0">
<circle cx="545.0" cy="431.2" r="0.84"/>
<circle cx="551.2" cy="434.8" r="1.60"/>
<circle cx="556.3" cy="431.9" r="1.86"/>
<circle cx="552.0" cy="430.2" r="1.88"/>
<circle cx="557.7" cy="432.8" r="1.54"/>
<circle cx="544.5" cy="431.2" r="1.01"/>
<circle cx="551.1" cy="429.2" r="1.96"/>
<circle cx="556.7" cy="432.6" r="1.80"/>
<circle cx="554.7" cy="429.2" r="1.85"/>
<circle cx="555.5" cy="427.9" r="1.71"/>
<circle cx="553.4" cy="431.6" r="1.00"/>
<circle cx="550.1" cy="434.2" r="1.35"/>
<circle cx="561.4" cy="429.7" r="1.05"/>
<circle cx="551.4" cy="430.4" r="1.50"/>
<circle cx="548.0" cy="427.7" r="0.91"/>
<circle cx="551.1" cy="429.1" r="1.81"/>
<circle cx="550.8" cy="430.3" r="1.97"/>
<circle cx="557.4" cy="429.1" r="1.92"/>
<circle cx="545.3" cy="441.3" r="1.49"/>
<circle cx="546.3" cy="437.0" r="0.84"/>
<circle cx="547.7" cy="440.3" r="1.76"/>
<circle cx="545.8" cy="436.7" r="1.68"/>
<circle cx="546.2" cy="438.4" r="1.38"/>
<circle cx="550.0" cy="435.5" r="1.33"/>
<circle cx="546.6" cy="436.2" r="0.99"/>
<circle cx="549.8" cy="437.0" r="1.01"/>
<circle cx="543.8" cy="441.7" r="0.87"/>
<circle cx="547.7" cy="442.0" r="1.08"/>
<circle cx="543.4" cy="439.5" r="1.37"/>
<circle cx="545.2" cy="440.0" r="1.76"/>
<circle cx="546.3" cy="433.2" r="0.85"/>
<circle cx="548.5" cy="441.8" r="1.17"/>
<circle cx="546.6" cy="435.6" r="1.27"/>
<circle cx="544.6" cy="435.4" r="1.43"/>
<circle cx="550.4" cy="439.0" r="1.54"/>
<circle cx="545.9" cy="441.2" r="1.57"/>
<circle cx="560.4" cy="437.8" r="1.91"/>
<circle cx="559.5" cy="437.6" r="1.24"/>
<circle cx="559.8" cy="436.7" r="1.51"/>
<circle cx="557.3" cy="436.7" r="0.83"/>
<circle cx="563.9" cy="438.6" r="1.00"/>
<circle cx="561.1" cy="441.3" r="0.82"/>
<circle cx="559.6" cy="433.8" r="1.20"/>
<circle cx="557.9" cy="436.1" r="1.62"/>
<circle cx="560.2" cy="438.5" r="0.91"/>
<circle cx="563.6" cy="436.0" r="1.12"/>
<circle cx="559.8" cy="435.9" r="1.52"/>
<circle cx="557.8" cy="440.3" r="1.89"/>
<circle cx="562.7" cy="434.6" r="1.80"/>
<circle cx="558.5" cy="438.3" r="1.79"/>
<circle cx="559.2" cy="436.8" r="1.27"/>
<circle cx="563.3" cy="439.4" r="1.93"/>
<circle cx="563.0" cy="438.2" r="1.88"/>
<circle cx="562.6" cy="435.4" r="0.94"/>
<circle cx="565.1" cy="431.2" r="1.50"/>
<circle cx="566.0" cy="433.2" r="1.51"/>
<circle cx="567.9" cy="432.8" r="1.54"/>
<circle cx="566.9" cy="430.9" r="0.88"/>
<circle cx="566.1" cy="432.4" r="1.93"/>
<circle cx="566.9" cy="432.3" r="1.38"/>
<circle cx="564.7" cy="431.4" r="1.49"/>
<circle cx="568.2" cy="432.6" r="1.52"/>
<circle cx="569.4" cy="432.5" r="1.09"/>
<circle cx="567.1" cy="429.3" r="1.52"/>
<circle cx="566.2" cy="434.5" r="1.36"/>
<circle cx="564.1" cy="432.5" r="1.40"/>
<circle cx="567.1" cy="429.6" r="1.07"/>
<circle cx="567.8" cy="432.2" r="0.81"/>
<circle cx="569.8" cy="433.6" r="1.58"/>
<circle cx="565.8" cy="435.4" r="1.09"/>
<circle cx="564.4" cy="433.8" r="1.04"/>
<circle cx="565.3" cy="433.0" r="1.64"/>
<circle cx="554.9" cy="446.1" r="1.66"/>
<circle cx="553.0" cy="440.4" r="1.29"/>
<circle cx="553.0" cy="443.3" r="1.19"/>
<circle cx="554.1" cy="440.1" r="1.26"/>
<circle cx="555.9" cy="446.0" r="0.90"/>
<circle cx="553.9" cy="444.7" r="1.56"/>
<circle cx="554.1" cy="442.9" r="1.67"/>
<circle cx="553.2" cy="446.1" r="1.47"/>
<circle cx="551.9" cy="443.9" r="1.19"/>
<circle cx="551.2" cy="444.4" r="1.05"/>
<circle cx="552.7" cy="444.3" r="1.21"/>
<circle cx="554.8" cy="447.3" r="1.36"/>
<circle cx="556.6" cy="444.9" r="1.33"/>
<circle cx="554.9" cy="446.6" r="0.97"/>
<circle cx="551.6" cy="443.1" r="1.27"/>
<circle cx="553.5" cy="446.2" r="0.98"/>
<circle cx="553.3" cy="442.3" r="1.04"/>
<circle cx="555.8" cy="441.2" r="1.02"/>
<circle cx="542.4" cy="444.2" r="1.13"/>
<circle cx="542.5" cy="445.4" r="0.81"/>
<circle cx="543.7" cy="443.5" r="1.21"/>
<circle cx="544.4" cy="447.4" r="1.76"/>
<circle cx="545.4" cy="446.6" r="1.09"/>
<circle cx="544.6" cy="445.6" r="1.58"/>
<circle cx="544.2" cy="445.2" r="1.10"/>
<circle cx="541.8" cy="445.3" r="1.66"/>
<circle cx="543.8" cy="442.5" r="0.86"/>
<circle cx="540.3" cy="444.7" r="1.40"/>
<circle cx="540.3" cy="444.5" r="1.68"/>
<circle cx="543.5" cy="445.8" r="1.86"/>
<circle cx="542.4" cy="447.0" r="1.59"/>
<circle cx="541.6" cy="446.6" r="1.81"/>
<circle cx="541.3" cy="444.3" r="1.09"/>
<circle cx="542.4" cy="444.0" r="1.83"/>
<circle cx="543.1" cy="442.3" r="1.49"/>
<circle cx="544.1" cy="444.4" r="1.93"/>
<circle cx="541.8" cy="433.5" r="0.86"/>
<circle cx="539.9" cy="436.2" r="1.49"/>
<circle cx="537.4" cy="435.0" r="1.46"/>
<circle cx="538.9" cy="435.5" r="1.62"/>
<circle cx="537.9" cy="435.0" r="1.40"/>
<circle cx="540.7" cy="435.4" r="1.03"/>
<circle cx="542.1" cy="434.4" r="1.15"/>
<circle cx="538.6" cy="435.4" r="0.95"/>
<circle cx="542.1" cy="435.0" r="1.92"/>
<circle cx="539.9" cy="434.4" r="1.35"/>
<circle cx="538.1" cy="436.3" r="1.82"/>
<circle cx="538.3" cy="435.8" r="1.86"/>
<circle cx="538.7" cy="433.8" r="0.80"/>
<circle cx="541.9" cy="434.6" r="1.67"/>
<circle cx="540.3" cy="434.1" r="0.92"/>
<circle cx="538.1" cy="432.9" r="1.41"/>
<circle cx="541.0" cy="436.1" r="0.95"/>
<circle cx="540.8" cy="436.5" r="1.30"/>
<circle cx="567.5" cy="444.3" r="1.36"/>
<circle cx="568.2" cy="443.5" r="0.92"/>
<circle cx="568.4" cy="445.0" r="1.31"/>
<circle cx="567.2" cy="442.8" r="0.99"/>
<circle cx="568.5" cy="440.3" r="1.08"/>
<circle cx="567.9" cy="443.1" r="1.27"/>
<circle cx="568.9" cy="440.8" r="1.10"/>
<circle cx="569.9" cy="444.8" r="1.18"/>
<circle cx="568.6" cy="441.6" r="1.53"/>
<circle cx="567.6" cy="443.3" r="1.10"/>
<circle cx="568.5" cy="442.1" r="1.62"/>
<circle cx="568.5" cy="443.8" r="1.45"/>
<circle cx="567.9" cy="445.0" r="1.39"/>
<circle cx="569.6" cy="441.9" r="1.84"/>
<circle cx="569.3" cy="441.4" r="1.24"/>
<circle cx="568.1" cy="440.9" r="0.96"/>
<circle cx="568.5" cy="443.6" r="1.79"/>
<circle cx="568.4" cy="440.9" r="1.28"/>
</g>
<g fill="#2090e6" opacity="1.0">
<circle cx="547.2" cy="433.4" r="1.00"/>
<circle cx="552.7" cy="430.1" r="1.63"/>
<circle cx="545.8" cy="431.1" r="1.68"/>
<circle cx="544.4" cy="430.0" r="1.59"/>
<circle cx="550.9" cy="429.4" r="0.99"/>
<circle cx="551.9" cy="435.3" r="1.00"/>
<circle cx="546.5" cy="428.9" r="0.87"/>
<circle cx="549.2" cy="431.4" r="1.84"/>
<circle cx="550.3" cy="430.3" r="1.67"/>
<circle cx="548.8" cy="430.6" r="1.60"/>
<circle cx="553.0" cy="435.3" r="1.63"/>
<circle cx="550.0" cy="431.9" r="1.18"/>
<circle cx="555.8" cy="434.0" r="1.02"/>
<circle cx="560.8" cy="433.7" r="1.16"/>
<circle cx="559.9" cy="438.5" r="1.29"/>
<circle cx="556.6" cy="433.8" r="1.27"/>
<circle cx="559.2" cy="436.2" r="1.35"/>
<circle cx="557.7" cy="433.6" r="1.69"/>
<circle cx="554.4" cy="435.1" r="1.59"/>
<circle cx="557.5" cy="437.1" r="0.88"/>
<circle cx="561.5" cy="436.9" r="1.85"/>
<circle cx="558.0" cy="434.9" r="1.59"/>
<circle cx="560.6" cy="438.7" r="1.59"/>
<circle cx="558.0" cy="433.0" r="1.30"/>
<circle cx="546.7" cy="439.6" r="1.09"/>
<circle cx="542.7" cy="443.0" r="1.62"/>
<circle cx="543.4" cy="443.0" r="1.96"/>
<circle cx="544.8" cy="443.2" r="1.62"/>
<circle cx="544.5" cy="444.8" r="1.19"/>
<circle cx="546.5" cy="441.2" r="1.86"/>
<circle cx="545.0" cy="439.5" r="1.06"/>
<circle cx="545.2" cy="442.3" r="1.02"/>
<circle cx="544.7" cy="441.5" r="1.08"/>
<circle cx="544.1" cy="441.6" r="1.19"/>
<circle cx="545.3" cy="444.4" r="0.94"/>
<circle cx="547.2" cy="442.0" r="1.66"/>
</g>
<circle cx="545.5" cy="436.5" r="2.6" fill="#1818d8"/><circle cx="539" cy="443" r="1.2" fill="#2020e0"/><circle cx="573.6" cy="441" r="0.8" fill="#2828c0"/>
</g>

<g clip-path="url(#mapclip2)"><g id="s2mapov">
<g fill="#1ad0f0" opacity="0.85">
<circle cx="662.2" cy="407.3" r="1.49"/>
<circle cx="663.4" cy="399.0" r="2.19"/>
<circle cx="666.1" cy="399.9" r="2.94"/>
<circle cx="661.4" cy="396.5" r="2.33"/>
<circle cx="658.3" cy="399.8" r="2.99"/>
<circle cx="655.5" cy="406.5" r="2.73"/>
<circle cx="665.5" cy="402.6" r="2.06"/>
<circle cx="663.1" cy="399.4" r="2.31"/>
<circle cx="657.4" cy="407.1" r="2.87"/>
<circle cx="662.2" cy="399.0" r="2.57"/>
<circle cx="655.3" cy="404.7" r="2.05"/>
<circle cx="668.6" cy="397.6" r="2.68"/>
<circle cx="665.3" cy="395.7" r="2.27"/>
<circle cx="665.6" cy="409.1" r="2.04"/>
<circle cx="666.8" cy="402.5" r="1.95"/>
<circle cx="664.4" cy="409.4" r="1.40"/>
<circle cx="666.6" cy="398.8" r="1.52"/>
<circle cx="658.9" cy="405.9" r="1.41"/>
<circle cx="662.5" cy="395.8" r="2.97"/>
<circle cx="665.3" cy="395.9" r="2.99"/>
<circle cx="667.6" cy="399.4" r="2.17"/>
<circle cx="655.0" cy="401.0" r="2.87"/>
<circle cx="665.5" cy="395.7" r="1.25"/>
<circle cx="660.4" cy="402.9" r="2.25"/>
<circle cx="657.0" cy="399.3" r="2.74"/>
<circle cx="663.0" cy="408.5" r="2.26"/>
<circle cx="663.8" cy="409.7" r="1.30"/>
<circle cx="656.6" cy="403.2" r="2.27"/>
<circle cx="667.6" cy="401.4" r="2.80"/>
<circle cx="660.6" cy="407.0" r="1.46"/>
<circle cx="678.2" cy="410.4" r="2.61"/>
<circle cx="686.8" cy="419.1" r="2.93"/>
<circle cx="689.8" cy="415.6" r="2.42"/>
<circle cx="680.9" cy="408.0" r="2.10"/>
<circle cx="686.5" cy="413.8" r="2.47"/>
<circle cx="677.9" cy="407.8" r="2.06"/>
<circle cx="690.5" cy="415.9" r="1.70"/>
<circle cx="684.0" cy="405.3" r="2.60"/>
<circle cx="674.5" cy="420.2" r="1.89"/>
<circle cx="679.0" cy="421.5" r="2.38"/>
<circle cx="679.3" cy="408.6" r="1.94"/>
<circle cx="681.8" cy="409.9" r="2.29"/>
<circle cx="685.0" cy="415.1" r="2.76"/>
<circle cx="683.3" cy="420.7" r="1.30"/>
<circle cx="682.5" cy="409.9" r="1.29"/>
<circle cx="680.6" cy="424.5" r="2.56"/>
<circle cx="691.7" cy="415.2" r="1.33"/>
<circle cx="675.2" cy="415.7" r="2.61"/>
<circle cx="687.6" cy="421.9" r="1.69"/>
<circle cx="681.3" cy="405.5" r="2.26"/>
<circle cx="689.8" cy="415.1" r="1.98"/>
<circle cx="680.9" cy="406.4" r="1.39"/>
<circle cx="675.0" cy="411.8" r="2.87"/>
<circle cx="676.4" cy="410.1" r="2.58"/>
<circle cx="686.9" cy="422.7" r="2.25"/>
<circle cx="679.9" cy="412.5" r="2.14"/>
<circle cx="678.7" cy="417.1" r="2.89"/>
<circle cx="685.6" cy="409.8" r="1.34"/>
<circle cx="684.8" cy="414.7" r="2.11"/>
<circle cx="673.6" cy="411.4" r="2.38"/>
<circle cx="685.7" cy="420.8" r="2.96"/>
<circle cx="691.8" cy="420.1" r="2.63"/>
<circle cx="694.9" cy="422.3" r="1.35"/>
<circle cx="697.2" cy="427.2" r="1.57"/>
<circle cx="691.0" cy="421.2" r="1.60"/>
<circle cx="693.8" cy="430.0" r="1.36"/>
<circle cx="683.1" cy="425.2" r="2.15"/>
<circle cx="690.7" cy="424.0" r="2.70"/>
<circle cx="689.4" cy="425.7" r="2.15"/>
<circle cx="690.8" cy="420.2" r="1.44"/>
<circle cx="692.0" cy="428.7" r="2.60"/>
<circle cx="695.9" cy="427.4" r="2.43"/>
<circle cx="685.8" cy="422.4" r="1.26"/>
<circle cx="685.3" cy="423.9" r="2.42"/>
<circle cx="692.5" cy="425.0" r="1.23"/>
<circle cx="688.5" cy="424.1" r="2.16"/>
<circle cx="686.2" cy="425.6" r="1.54"/>
<circle cx="694.5" cy="421.5" r="1.38"/>
<circle cx="684.0" cy="420.8" r="2.08"/>
<circle cx="695.6" cy="419.5" r="2.43"/>
<circle cx="694.6" cy="424.8" r="2.12"/>
<circle cx="692.6" cy="428.6" r="2.40"/>
<circle cx="690.1" cy="417.2" r="2.55"/>
<circle cx="688.2" cy="429.7" r="2.10"/>
<circle cx="690.1" cy="421.7" r="1.52"/>
<circle cx="688.6" cy="417.6" r="1.61"/>
<circle cx="690.8" cy="417.2" r="2.36"/>
<circle cx="688.6" cy="424.3" r="1.61"/>
<circle cx="690.7" cy="416.4" r="1.50"/>
<circle cx="694.1" cy="425.0" r="2.89"/>
<circle cx="670.0" cy="434.6" r="2.61"/>
<circle cx="673.3" cy="422.1" r="2.42"/>
<circle cx="670.0" cy="432.0" r="1.91"/>
<circle cx="665.3" cy="424.8" r="2.52"/>
<circle cx="672.0" cy="428.5" r="1.60"/>
<circle cx="672.0" cy="433.2" r="2.78"/>
<circle cx="673.3" cy="430.5" r="1.21"/>
<circle cx="668.0" cy="430.2" r="2.45"/>
<circle cx="672.6" cy="422.6" r="1.69"/>
<circle cx="664.5" cy="429.6" r="2.39"/>
<circle cx="669.1" cy="433.9" r="2.05"/>
<circle cx="659.2" cy="426.0" r="2.86"/>
<circle cx="667.1" cy="433.7" r="1.69"/>
<circle cx="677.1" cy="428.4" r="1.54"/>
<circle cx="666.4" cy="433.6" r="2.73"/>
<circle cx="661.7" cy="431.7" r="1.91"/>
<circle cx="675.0" cy="428.6" r="1.51"/>
<circle cx="669.5" cy="432.0" r="2.36"/>
<circle cx="668.8" cy="430.8" r="2.23"/>
<circle cx="667.0" cy="432.9" r="2.41"/>
<circle cx="664.7" cy="434.1" r="2.94"/>
<circle cx="669.9" cy="428.3" r="1.40"/>
<circle cx="663.1" cy="428.2" r="2.52"/>
<circle cx="674.2" cy="427.6" r="1.69"/>
<circle cx="669.7" cy="434.5" r="2.67"/>
<circle cx="675.2" cy="423.2" r="2.02"/>
<circle cx="667.9" cy="424.4" r="1.45"/>
<circle cx="666.1" cy="424.4" r="2.17"/>
<circle cx="664.1" cy="426.8" r="1.24"/>
<circle cx="667.7" cy="422.1" r="2.58"/>
<circle cx="674.8" cy="400.8" r="2.33"/>
<circle cx="673.1" cy="401.7" r="2.14"/>
<circle cx="671.5" cy="397.0" r="1.41"/>
<circle cx="676.8" cy="401.9" r="2.74"/>
<circle cx="680.0" cy="395.3" r="1.55"/>
<circle cx="675.1" cy="400.4" r="1.61"/>
<circle cx="676.7" cy="399.7" r="2.67"/>
<circle cx="671.1" cy="397.1" r="2.32"/>
<circle cx="676.3" cy="392.3" r="2.19"/>
<circle cx="676.4" cy="401.5" r="2.00"/>
<circle cx="677.9" cy="401.6" r="2.59"/>
<circle cx="675.7" cy="398.6" r="1.38"/>
<circle cx="674.7" cy="399.7" r="2.04"/>
<circle cx="678.0" cy="397.5" r="1.84"/>
<circle cx="674.6" cy="396.8" r="2.77"/>
<circle cx="676.4" cy="398.0" r="1.91"/>
<circle cx="676.2" cy="397.5" r="2.20"/>
<circle cx="677.7" cy="392.6" r="1.54"/>
<circle cx="679.3" cy="396.0" r="2.53"/>
<circle cx="676.1" cy="399.0" r="2.06"/>
<circle cx="678.2" cy="397.7" r="2.97"/>
<circle cx="679.2" cy="397.6" r="2.02"/>
<circle cx="676.5" cy="397.8" r="2.24"/>
<circle cx="678.0" cy="402.4" r="2.08"/>
<circle cx="673.9" cy="395.7" r="2.77"/>
<circle cx="676.3" cy="397.4" r="2.22"/>
<circle cx="677.0" cy="403.6" r="2.84"/>
<circle cx="677.0" cy="393.4" r="2.82"/>
<circle cx="676.0" cy="400.9" r="2.84"/>
<circle cx="674.6" cy="395.7" r="2.72"/>
<circle cx="649.8" cy="419.7" r="2.89"/>
<circle cx="649.7" cy="415.9" r="1.35"/>
<circle cx="651.1" cy="420.1" r="2.57"/>
<circle cx="652.3" cy="420.6" r="1.79"/>
<circle cx="648.0" cy="421.3" r="1.38"/>
<circle cx="649.0" cy="419.9" r="1.92"/>
<circle cx="649.8" cy="421.1" r="1.36"/>
<circle cx="649.9" cy="419.0" r="2.10"/>
<circle cx="646.6" cy="416.8" r="2.30"/>
<circle cx="650.9" cy="415.5" r="1.41"/>
<circle cx="654.2" cy="421.4" r="1.69"/>
<circle cx="647.5" cy="420.4" r="1.48"/>
<circle cx="647.5" cy="422.0" r="2.68"/>
<circle cx="650.2" cy="421.2" r="2.29"/>
<circle cx="651.9" cy="417.8" r="1.72"/>
<circle cx="653.3" cy="416.9" r="1.26"/>
<circle cx="652.8" cy="422.4" r="1.92"/>
<circle cx="647.1" cy="420.2" r="1.41"/>
<circle cx="650.4" cy="415.4" r="2.30"/>
<circle cx="648.6" cy="423.8" r="1.72"/>
<circle cx="652.8" cy="422.3" r="2.24"/>
<circle cx="652.3" cy="418.2" r="1.43"/>
<circle cx="649.2" cy="419.6" r="1.69"/>
<circle cx="652.7" cy="419.6" r="1.85"/>
<circle cx="651.1" cy="419.7" r="2.58"/>
<circle cx="649.4" cy="415.3" r="1.43"/>
<circle cx="647.4" cy="420.8" r="1.22"/>
<circle cx="650.8" cy="421.3" r="1.33"/>
<circle cx="648.8" cy="416.1" r="1.90"/>
<circle cx="651.9" cy="415.9" r="2.71"/>
</g>
<g fill="#2a7ef0" opacity="0.8">
<circle cx="656.4" cy="415.9" r="2.22"/>
<circle cx="647.3" cy="416.6" r="1.77"/>
<circle cx="657.3" cy="415.0" r="2.59"/>
<circle cx="652.5" cy="417.1" r="1.68"/>
<circle cx="654.3" cy="415.4" r="1.74"/>
<circle cx="656.6" cy="416.1" r="1.44"/>
<circle cx="655.4" cy="418.7" r="2.29"/>
<circle cx="648.7" cy="418.8" r="2.46"/>
<circle cx="661.1" cy="412.4" r="2.01"/>
<circle cx="651.5" cy="411.1" r="1.96"/>
<circle cx="658.4" cy="419.2" r="1.94"/>
<circle cx="655.8" cy="417.3" r="1.46"/>
<circle cx="652.7" cy="411.0" r="2.12"/>
<circle cx="654.2" cy="416.3" r="1.21"/>
<circle cx="665.7" cy="421.6" r="1.84"/>
<circle cx="668.8" cy="426.5" r="1.45"/>
<circle cx="671.1" cy="428.2" r="1.63"/>
<circle cx="664.6" cy="423.8" r="1.97"/>
<circle cx="667.8" cy="419.8" r="1.41"/>
<circle cx="673.3" cy="423.6" r="2.35"/>
<circle cx="662.4" cy="426.7" r="2.34"/>
<circle cx="668.3" cy="429.8" r="2.39"/>
<circle cx="668.1" cy="419.4" r="1.94"/>
<circle cx="667.4" cy="423.9" r="2.13"/>
<circle cx="671.0" cy="428.9" r="2.46"/>
<circle cx="667.2" cy="425.9" r="1.26"/>
<circle cx="666.0" cy="424.8" r="2.23"/>
<circle cx="664.9" cy="422.5" r="2.14"/>
<circle cx="661.8" cy="434.0" r="1.26"/>
<circle cx="655.8" cy="431.0" r="1.42"/>
<circle cx="658.1" cy="428.3" r="1.65"/>
<circle cx="660.6" cy="433.7" r="2.37"/>
<circle cx="663.8" cy="433.7" r="1.57"/>
<circle cx="660.2" cy="428.3" r="2.39"/>
<circle cx="661.2" cy="434.6" r="1.64"/>
<circle cx="661.7" cy="430.6" r="1.44"/>
<circle cx="659.0" cy="432.5" r="1.51"/>
<circle cx="659.3" cy="430.0" r="1.46"/>
<circle cx="662.1" cy="431.3" r="2.31"/>
<circle cx="658.6" cy="429.4" r="2.11"/>
<circle cx="656.1" cy="430.2" r="2.17"/>
<circle cx="659.6" cy="435.1" r="1.91"/>
<circle cx="681.0" cy="404.5" r="1.83"/>
<circle cx="680.8" cy="404.8" r="2.22"/>
<circle cx="682.4" cy="403.3" r="1.28"/>
<circle cx="680.3" cy="403.2" r="1.93"/>
<circle cx="680.8" cy="403.2" r="1.54"/>
<circle cx="681.6" cy="406.4" r="1.34"/>
<circle cx="678.8" cy="401.6" r="1.28"/>
<circle cx="676.6" cy="404.4" r="2.29"/>
<circle cx="679.7" cy="407.7" r="2.16"/>
<circle cx="676.0" cy="404.5" r="2.47"/>
<circle cx="681.1" cy="404.8" r="1.23"/>
<circle cx="677.6" cy="403.5" r="1.57"/>
<circle cx="680.1" cy="408.5" r="2.31"/>
<circle cx="681.1" cy="405.1" r="2.21"/>
</g>
<circle cx="657.7" cy="411.1" r="7.5" fill="#1a1ad0" opacity="0.9"/><circle cx="654" cy="407" r="3.5" fill="#3a5ae8" opacity="0.6"/>
<circle cx="673.9" cy="392.3" r="4.5" fill="#2e2ee0" opacity="0.9"/>
<circle cx="669.4" cy="425.3" r="5" fill="#2020c8" opacity="0.9"/><circle cx="669.2" cy="415.8" r="2" fill="#2020d0"/>
<circle cx="669.8" cy="435.7" r="2.4" fill="#2424d8"/><circle cx="674.7" cy="438" r="1.8" fill="#3040e0"/><circle cx="649" cy="425" r="2.4" fill="#2424d0"/><circle cx="656" cy="427" r="2" fill="#1a1ab8"/>
</g>
</g>
<clipPath id="mapclip2"><rect x="622" y="67" width="101.7" height="171.3" rx="3" transform="translate(466.4,319.4) scale(1.0042,1.0027) translate(-466.5,-56.5)"/></clipPath>
</g>

<!-- TEXT -->
<g font-weight="bold" fill="#595959" stroke="#595959" stroke-width="0.3">
  <text x="89" y="22" font-size="10" textLength="141" lengthAdjust="spacingAndGlyphs">Configuration and Clustering</text>
  <text x="497" y="23.1" font-size="10.2" textLength="247" lengthAdjust="spacingAndGlyphs">Local browser-based spatiotemporal analysis</text>
  <text x="131.3" y="286.4" font-size="9" textLength="56.5" lengthAdjust="spacingAndGlyphs">Clusters data</text>
  <text x="93.3" y="343.3" font-size="9" textLength="31" lengthAdjust="spacingAndGlyphs">newick</text>
  <text x="189" y="343.3" font-size="9" textLength="42" lengthAdjust="spacingAndGlyphs">metadata</text>
  <text transform="translate(21.5,185.1) rotate(-90)" font-size="11.8" textLength="114.5" lengthAdjust="spacingAndGlyphs">Bioinformatics Services</text>
  <text transform="translate(35.5,149.2) rotate(-90)" font-size="11.8" textLength="42.5" lengthAdjust="spacingAndGlyphs">Platform</text>
  <text transform="translate(21.2,415.5) rotate(-90)" font-size="11.5" textLength="55.8" lengthAdjust="spacingAndGlyphs">Standalone</text>
  <text transform="translate(34.5,409) rotate(-90)" font-size="11.5" textLength="42.4" lengthAdjust="spacingAndGlyphs">web app</text>
</g>
<g font-weight="bold" fill="#111" stroke="#111" stroke-width="0.25">
  <text x="84.1" y="83.2" font-size="9.6" textLength="39.1" lengthAdjust="spacingAndGlyphs">Genomic</text>
  <text x="104" y="96" font-size="9.6" text-anchor="middle">data</text>
  <text x="182.9" y="76.6" font-size="9.6" textLength="65.1" lengthAdjust="spacingAndGlyphs">Metadata with</text>
  <text x="181.1" y="89.3" font-size="9.6" textLength="67.8" lengthAdjust="spacingAndGlyphs">Spatiotemporal</text>
  <text x="215.3" y="102.2" font-size="9.6" text-anchor="middle">data</text>
  <text x="99.3" y="184.4" font-size="12.3" textLength="120.7" lengthAdjust="spacingAndGlyphs">Bioinformatics tools</text>
  <text x="135.8" y="484.2" font-size="12.2" textLength="47.2" lengthAdjust="spacingAndGlyphs">SPREAD</text>
  <text x="828.8" y="81" font-size="16.5" textLength="45.2" lengthAdjust="spacingAndGlyphs">time t</text>
  <text x="874" y="88.3" font-size="11" textLength="6.8" lengthAdjust="spacingAndGlyphs">0</text>
  <text x="828.4" y="344.5" font-size="16.5" textLength="45.2" lengthAdjust="spacingAndGlyphs">time t</text>
  <text x="874.5" y="352" font-size="11" textLength="6.2" lengthAdjust="spacingAndGlyphs">n</text>
</g>
<text x="131.3" y="502" font-size="12.2" fill="#111" stroke="#111" stroke-width="0.12" textLength="56" lengthAdjust="spacingAndGlyphs">GIS, TIME</text>
<text x="635.3" y="283.4" font-size="10.2" font-style="italic" fill="#4a4a4a" stroke="#4a4a4a" stroke-width="0.12" textLength="18.4" lengthAdjust="spacingAndGlyphs">time</text>

</svg>
</body>
</html>
